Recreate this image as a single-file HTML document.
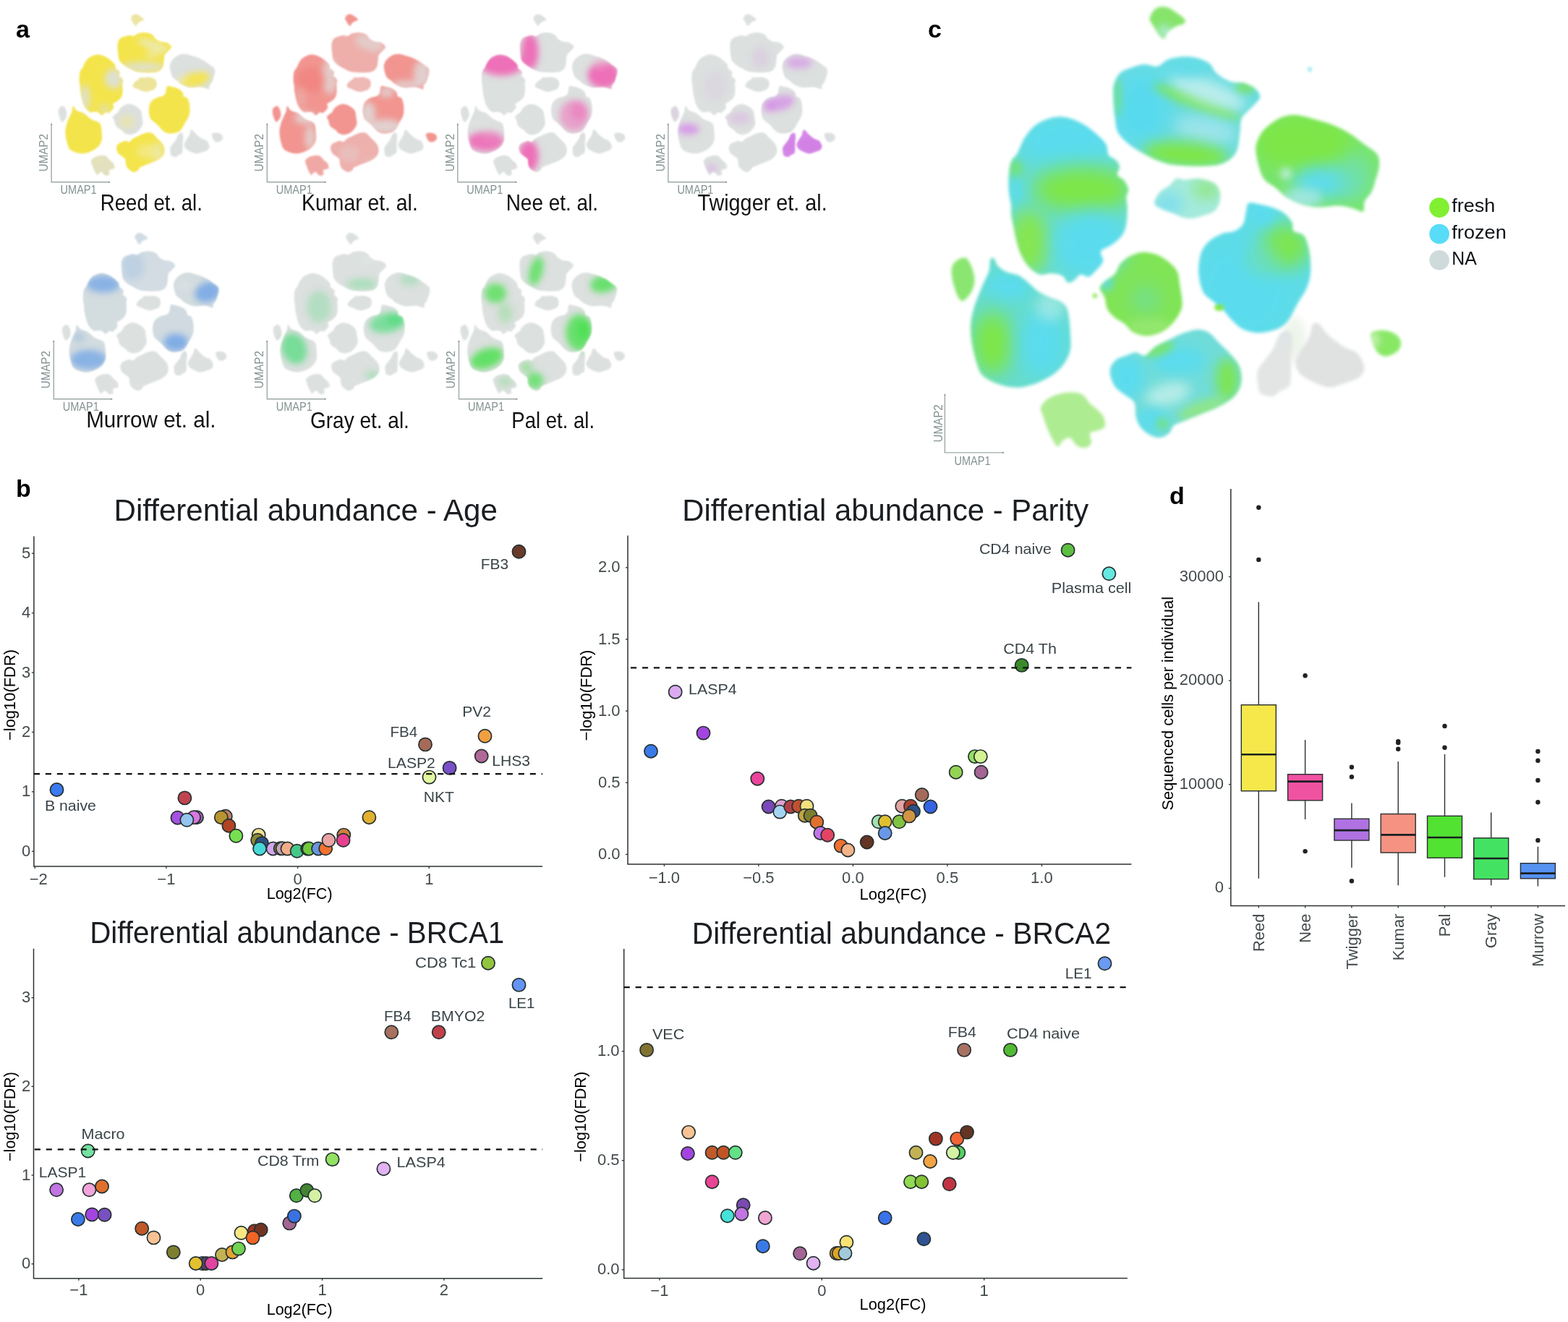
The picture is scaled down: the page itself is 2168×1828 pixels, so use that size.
<!DOCTYPE html><html><head><meta charset="utf-8"><title>Figure</title>
<style>html,body{margin:0;padding:0;background:#fff;}svg{display:block;}text{font-family:'Liberation Sans', Arial, sans-serif;}</style></head><body>
<svg width="2168" height="1828" viewBox="0 0 2168 1828">
<rect width="2168" height="1828" fill="#fff"/>
<defs>
<path id="b1" d="M1590.3,22.9C1591.3,20.3 1593.5,15.7 1596.1,13.4C1598.7,11.1 1602.2,9.5 1605.7,9.2C1609.2,8.9 1613.3,9.8 1617.1,11.5C1620.9,13.2 1625.1,16.6 1628.6,19.1C1632.1,21.7 1636.7,24.6 1638.1,26.8C1639.5,29.0 1639.1,30.9 1637.2,32.5C1635.3,34.1 1630.4,34.4 1626.7,36.3C1623.0,38.2 1618.1,41.1 1615.2,44.0C1612.3,46.9 1611.7,52.9 1609.5,53.5C1607.3,54.1 1604.0,50.3 1601.8,47.8C1599.6,45.2 1598.0,41.4 1596.1,38.2C1594.2,35.0 1591.3,31.2 1590.3,28.7C1589.3,26.1 1589.3,25.4 1590.3,22.9Z"/>
<path id="b2" d="M1539.7,118.5C1541.1,111.5 1544.3,105.4 1548.3,101.3C1552.3,97.2 1557.9,95.8 1563.6,93.7C1569.3,91.6 1576.7,89.2 1582.7,88.9C1588.8,88.6 1594.5,92.9 1599.9,91.8C1605.3,90.7 1609.5,84.4 1615.2,82.2C1620.9,80.0 1627.6,78.7 1634.3,78.4C1641.0,78.1 1648.9,78.7 1655.3,80.3C1661.7,81.9 1668.0,84.5 1672.5,88.0C1677.0,91.5 1677.3,97.2 1682.1,101.3C1686.9,105.4 1694.8,110.6 1701.2,112.8C1707.6,115.0 1714.6,113.1 1720.3,114.7C1726.0,116.3 1731.9,119.2 1735.6,122.4C1739.3,125.6 1742.3,130.3 1742.3,133.8C1742.3,137.3 1738.3,140.2 1735.6,143.4C1732.9,146.6 1729.3,149.5 1726.1,153.0C1722.9,156.5 1718.4,159.6 1716.5,164.4C1714.6,169.2 1715.5,174.6 1714.6,181.6C1713.6,188.6 1713.0,200.1 1710.8,206.5C1708.6,212.9 1705.3,216.4 1701.2,219.9C1697.1,223.4 1691.6,225.9 1685.9,227.5C1680.2,229.1 1673.8,229.1 1666.8,229.4C1659.8,229.7 1651.9,229.7 1643.9,229.4C1635.9,229.1 1626.3,228.8 1619.0,227.5C1611.7,226.2 1606.3,224.4 1599.9,221.8C1593.5,219.2 1586.5,215.4 1580.8,212.2C1575.1,209.0 1570.3,206.2 1565.5,202.7C1560.7,199.2 1555.6,195.0 1552.1,191.2C1548.6,187.4 1546.2,184.5 1544.4,179.7C1542.7,174.9 1542.4,168.6 1541.6,162.5C1540.8,156.4 1540.0,150.7 1539.7,143.4C1539.4,136.1 1538.3,125.5 1539.7,118.5Z"/>
<path id="b3" d="M1394.9,241.8C1395.4,234.9 1396.0,228.6 1398.0,223.5C1400.0,218.4 1404.0,216.6 1407.1,211.2C1410.1,205.8 1412.5,197.4 1416.3,191.3C1420.1,185.2 1425.0,178.8 1430.1,174.5C1435.2,170.2 1441.0,167.5 1446.9,165.3C1452.8,163.1 1459.2,161.5 1465.3,161.5C1471.4,161.5 1477.6,163.1 1483.7,165.3C1489.8,167.5 1496.1,170.7 1502.0,174.5C1507.9,178.3 1514.3,184.0 1518.9,188.3C1523.5,192.6 1527.3,196.2 1529.6,200.5C1531.9,204.8 1530.4,210.7 1532.7,214.3C1535.0,217.9 1540.9,219.1 1543.4,221.9C1546.0,224.7 1547.8,227.8 1548.0,231.1C1548.2,234.4 1543.9,238.7 1544.9,241.8C1545.9,244.9 1551.5,246.2 1554.1,249.5C1556.6,252.8 1559.7,257.9 1560.2,261.7C1560.7,265.5 1557.5,268.1 1557.2,272.5C1557.0,276.9 1558.7,281.4 1558.7,287.8C1558.7,294.2 1558.5,304.3 1557.2,310.7C1555.9,317.1 1554.3,321.4 1551.0,326.0C1547.7,330.6 1542.1,334.7 1537.3,338.3C1532.5,341.9 1524.0,343.7 1522.0,347.5C1520.0,351.3 1526.3,356.6 1525.0,361.2C1523.7,365.8 1517.6,371.4 1514.3,375.0C1511.0,378.6 1508.4,381.9 1505.1,382.7C1501.8,383.5 1498.0,378.6 1494.4,379.6C1490.8,380.6 1486.8,387.0 1483.7,388.8C1480.6,390.6 1478.5,391.6 1476.0,390.3C1473.5,389.0 1472.2,383.1 1468.4,381.1C1464.6,379.1 1458.2,378.4 1453.1,378.1C1448.0,377.9 1442.9,381.1 1437.8,379.6C1432.7,378.1 1426.8,373.5 1422.5,368.9C1418.2,364.3 1414.5,357.9 1411.7,352.0C1408.9,346.1 1407.4,340.3 1405.6,333.7C1403.8,327.1 1402.3,318.7 1401.0,312.3C1399.7,305.9 1398.5,300.2 1398.0,295.4C1397.5,290.5 1398.5,288.3 1398.0,283.2C1397.5,278.1 1395.4,271.7 1394.9,264.8C1394.4,257.9 1394.4,248.7 1394.9,241.8Z"/>
<path id="b4" d="M1736.4,203.6C1737.1,196.2 1740.6,189.8 1744.1,184.3C1747.6,178.8 1752.5,174.7 1757.6,170.8C1762.7,167.0 1768.8,163.1 1774.9,161.2C1781.0,159.3 1787.1,158.7 1794.2,159.3C1801.3,160.0 1809.3,162.8 1817.3,165.1C1825.3,167.3 1834.4,169.6 1842.4,172.8C1850.4,176.0 1858.1,179.8 1865.5,184.3C1872.9,188.8 1880.3,195.0 1886.7,199.8C1893.1,204.6 1900.7,208.5 1904.1,213.3C1907.5,218.1 1907.3,222.9 1907.0,228.7C1906.7,234.5 1904.0,241.9 1902.2,248.0C1900.4,254.1 1899.0,260.2 1896.4,265.3C1893.8,270.4 1888.6,274.3 1886.7,278.8C1884.8,283.3 1887.4,290.7 1884.8,292.3C1882.2,293.9 1876.8,289.7 1871.3,288.4C1865.8,287.1 1860.0,284.9 1852.0,284.6C1844.0,284.3 1831.8,286.8 1823.1,286.5C1814.4,286.2 1807.4,284.9 1800.0,282.7C1792.6,280.4 1784.9,276.9 1778.8,273.0C1772.7,269.1 1768.5,263.7 1763.4,259.5C1758.3,255.3 1751.9,253.1 1748.0,248.0C1744.1,242.9 1742.1,236.1 1740.2,228.7C1738.3,221.3 1735.8,211.0 1736.4,203.6Z"/>
<path id="b5" d="M1596.1,281.1C1595.8,277.3 1600.2,270.0 1603.7,265.8C1607.2,261.6 1613.3,259.4 1617.1,256.2C1620.9,253.0 1623.2,248.0 1626.7,246.7C1630.2,245.4 1633.6,248.6 1638.1,248.6C1642.5,248.6 1648.6,246.7 1653.4,246.7C1658.2,246.7 1662.3,247.3 1666.8,248.6C1671.3,249.9 1676.8,251.4 1680.2,254.3C1683.6,257.2 1686.0,261.3 1686.9,265.8C1687.9,270.3 1687.3,276.7 1685.9,281.1C1684.5,285.6 1682.1,289.6 1678.3,292.5C1674.5,295.4 1668.1,296.7 1663.0,298.3C1657.9,299.9 1652.5,301.8 1647.7,302.1C1642.9,302.4 1638.8,301.5 1634.3,300.2C1629.8,298.9 1625.7,296.4 1620.9,294.5C1616.1,292.6 1609.7,290.9 1605.6,288.7C1601.5,286.5 1596.4,284.9 1596.1,281.1Z"/>
<path id="b6" d="M1657.3,371.3C1657.6,364.2 1658.6,354.6 1661.2,348.2C1663.8,341.8 1668.0,337.0 1672.8,332.8C1677.6,328.6 1684.3,325.4 1690.1,323.1C1695.9,320.9 1702.7,321.6 1707.5,319.3C1712.3,317.1 1716.4,314.1 1719.0,309.6C1721.6,305.1 1721.6,297.1 1722.9,292.3C1724.2,287.5 1723.5,282.3 1726.7,280.7C1729.9,279.1 1737.1,281.7 1742.2,282.7C1747.3,283.7 1752.1,284.6 1757.6,286.5C1763.0,288.4 1770.1,290.7 1774.9,294.2C1779.7,297.7 1784.2,303.5 1786.5,307.7C1788.8,311.9 1785.8,316.4 1788.4,319.3C1791.0,322.2 1798.7,322.2 1801.9,325.1C1805.1,328.0 1806.1,331.5 1807.7,336.6C1809.3,341.7 1810.9,348.5 1811.6,355.9C1812.2,363.3 1812.6,373.6 1811.6,381.0C1810.6,388.4 1808.7,393.8 1805.8,400.2C1802.9,406.6 1798.0,412.8 1794.2,419.5C1790.4,426.2 1786.6,435.2 1782.7,440.7C1778.8,446.2 1775.6,449.4 1771.1,452.3C1766.6,455.2 1761.5,456.8 1755.7,458.1C1749.9,459.4 1742.8,460.6 1736.4,460.0C1730.0,459.4 1722.9,457.4 1717.1,454.2C1711.3,451.0 1705.9,444.9 1701.7,440.7C1697.5,436.5 1695.8,433.0 1692.0,429.2C1688.2,425.4 1683.1,421.5 1678.6,417.6C1674.1,413.7 1668.3,410.5 1665.1,406.0C1661.9,401.5 1660.6,396.4 1659.3,390.6C1658.0,384.8 1657.0,378.4 1657.3,371.3Z"/>
<path id="b7" d="M1520.7,398.0C1521.0,394.0 1525.8,390.9 1529.2,387.8C1532.6,384.7 1537.7,383.3 1541.1,379.3C1544.5,375.3 1545.9,368.2 1549.6,364.0C1553.3,359.8 1558.1,356.4 1563.2,353.8C1568.3,351.2 1574.3,349.0 1580.3,348.7C1586.3,348.4 1593.0,349.8 1599.0,352.1C1605.0,354.4 1611.2,358.3 1616.0,362.3C1620.8,366.3 1625.4,370.5 1627.9,375.9C1630.5,381.3 1630.2,387.2 1631.3,394.6C1632.4,402.0 1635.0,413.4 1634.7,420.2C1634.4,427.0 1632.1,430.7 1629.6,435.5C1627.0,440.3 1623.4,445.1 1619.4,449.1C1615.4,453.1 1611.5,456.8 1605.8,459.3C1600.1,461.9 1591.9,464.4 1585.4,464.4C1578.9,464.4 1571.7,462.1 1566.6,459.3C1561.5,456.5 1559.0,450.8 1554.7,447.4C1550.5,444.0 1545.1,442.3 1541.1,438.9C1537.1,435.5 1533.2,431.6 1530.9,427.0C1528.6,422.4 1529.2,416.4 1527.5,411.6C1525.8,406.8 1520.4,402.0 1520.7,398.0Z"/>
<path id="b8" d="M1342.1,449.1C1342.7,440.6 1344.9,431.6 1347.2,423.6C1349.5,415.7 1353.2,407.6 1355.7,401.4C1358.2,395.1 1360.5,390.6 1362.5,386.1C1364.5,381.6 1366.5,378.7 1367.6,374.2C1368.7,369.7 1368.2,361.7 1369.3,358.9C1370.4,356.1 1372.7,355.8 1374.4,357.2C1376.1,358.6 1376.7,364.3 1379.5,367.4C1382.3,370.5 1386.6,373.6 1391.4,375.9C1396.2,378.2 1403.4,378.4 1408.5,381.0C1413.6,383.6 1417.6,387.5 1422.1,391.2C1426.6,394.9 1430.6,399.7 1435.7,403.1C1440.8,406.5 1447.6,409.3 1452.7,411.6C1457.8,413.9 1462.6,414.4 1466.3,416.7C1470.0,419.0 1472.8,421.3 1474.8,425.3C1476.8,429.3 1477.3,434.4 1478.2,440.6C1479.1,446.8 1479.6,455.6 1479.9,462.7C1480.2,469.8 1481.0,476.9 1479.9,483.1C1478.8,489.3 1476.2,495.0 1473.1,500.1C1470.0,505.2 1465.7,509.7 1461.2,513.7C1456.7,517.7 1451.9,520.8 1445.9,523.9C1440.0,527.0 1432.3,530.4 1425.5,532.4C1418.7,534.4 1411.8,535.8 1405.0,535.8C1398.2,535.8 1390.8,534.1 1384.6,532.4C1378.4,530.7 1372.4,528.4 1367.6,525.6C1362.8,522.8 1358.8,520.2 1355.7,515.4C1352.6,510.6 1350.9,503.5 1348.9,496.7C1346.9,489.9 1344.9,482.5 1343.8,474.6C1342.7,466.7 1341.5,457.6 1342.1,449.1Z"/>
<path id="b9" d="M1316.8,367.4C1318.5,363.3 1322.9,360.0 1326.0,358.2C1329.1,356.4 1332.7,355.6 1335.2,356.6C1337.8,357.6 1339.5,361.0 1341.3,364.3C1343.1,367.6 1344.9,372.4 1345.9,376.5C1346.9,380.6 1347.8,384.7 1347.5,388.8C1347.2,392.9 1345.9,397.4 1344.4,401.0C1342.9,404.6 1340.6,407.6 1338.3,410.2C1336.0,412.8 1332.9,416.3 1330.6,416.3C1328.3,416.3 1326.3,413.2 1324.5,410.2C1322.7,407.1 1321.3,402.6 1319.9,398.0C1318.5,393.4 1316.6,387.8 1316.1,382.7C1315.6,377.6 1315.1,371.5 1316.8,367.4Z"/>
<path id="b10" d="M1534.7,512.5C1535.0,506.5 1539.2,501.3 1543.1,497.8C1547.0,494.3 1553.3,493.2 1557.9,491.5C1562.5,489.8 1566.3,487.3 1570.5,487.3C1574.7,487.3 1578.5,492.9 1583.1,491.5C1587.6,490.1 1591.8,482.8 1597.8,478.9C1603.8,475.0 1612.2,471.5 1618.9,468.4C1625.6,465.2 1631.5,462.1 1637.8,460.0C1644.1,457.9 1651.1,455.8 1656.7,455.8C1662.3,455.8 1666.5,456.9 1671.4,460.0C1676.3,463.1 1680.9,469.4 1686.2,474.7C1691.5,479.9 1698.5,486.2 1703.0,491.5C1707.5,496.8 1711.2,500.6 1713.5,506.2C1715.8,511.8 1717.0,519.2 1716.7,525.2C1716.4,531.2 1714.4,537.1 1711.4,542.0C1708.4,546.9 1704.1,550.8 1698.8,554.6C1693.5,558.5 1686.5,562.0 1679.8,565.1C1673.1,568.2 1665.8,570.7 1658.8,573.5C1651.8,576.3 1643.8,579.5 1637.8,582.0C1631.8,584.5 1626.6,585.5 1623.1,588.3C1619.6,591.1 1620.0,596.0 1616.8,598.8C1613.6,601.6 1608.7,604.8 1604.1,605.1C1599.5,605.5 1594.0,603.4 1589.4,600.9C1584.9,598.4 1580.0,594.6 1576.8,590.4C1573.6,586.2 1571.9,581.2 1570.5,575.6C1569.1,570.0 1570.9,561.6 1568.4,556.7C1566.0,551.8 1560.4,550.1 1555.8,546.2C1551.2,542.4 1544.5,539.2 1541.0,533.6C1537.5,528.0 1534.4,518.5 1534.7,512.5Z"/>
<path id="b11" d="M1439.1,563.0C1440.5,559.6 1444.8,554.2 1449.3,551.1C1453.8,548.0 1460.6,545.7 1466.3,544.3C1472.0,542.9 1478.2,542.3 1483.3,542.6C1488.4,542.9 1492.9,543.5 1496.9,546.0C1500.9,548.5 1503.7,554.5 1507.1,557.9C1510.5,561.3 1514.2,563.3 1517.3,566.4C1520.4,569.5 1524.1,572.6 1525.8,576.6C1527.5,580.6 1528.9,587.1 1527.5,590.2C1526.1,593.3 1520.7,594.0 1517.3,595.4C1513.9,596.8 1508.5,596.0 1507.1,598.8C1505.7,601.6 1509.9,609.0 1508.8,612.4C1507.7,615.8 1503.7,618.6 1500.3,619.2C1496.9,619.8 1491.8,618.1 1488.4,615.8C1485.0,613.5 1483.0,606.7 1479.9,605.6C1476.8,604.5 1472.5,607.0 1469.7,609.0C1466.9,611.0 1465.2,617.5 1462.9,617.5C1460.6,617.5 1458.4,612.7 1456.1,609.0C1453.8,605.3 1451.3,599.9 1449.3,595.4C1447.3,590.9 1445.6,585.7 1444.2,581.7C1442.8,577.7 1441.7,574.6 1440.8,571.5C1439.9,568.4 1437.7,566.4 1439.1,563.0Z"/>
<path id="b12a" d="M1738.7,512.5C1740.1,507.6 1743.7,504.8 1747.2,499.9C1750.7,495.0 1756.7,488.4 1759.8,483.1C1762.9,477.9 1764.0,472.2 1766.1,468.4C1768.2,464.5 1769.6,461.8 1772.4,460.0C1775.2,458.2 1780.5,455.8 1782.9,457.9C1785.4,460.0 1786.8,466.7 1787.1,472.6C1787.4,478.6 1785.3,486.6 1785.0,493.6C1784.7,500.6 1785.3,507.9 1785.0,514.6C1784.7,521.3 1785.7,529.0 1782.9,533.6C1780.1,538.2 1772.1,539.5 1768.2,542.0C1764.3,544.5 1764.0,547.9 1759.8,548.3C1755.6,548.6 1746.4,547.2 1742.9,544.1C1739.4,541.0 1739.4,534.7 1738.7,529.4C1738.0,524.1 1737.3,517.4 1738.7,512.5Z"/>
<path id="b12b" d="M1791.3,499.9C1792.0,494.6 1796.5,488.7 1799.7,483.1C1802.9,477.5 1807.8,471.9 1810.3,466.3C1812.8,460.7 1812.4,452.6 1814.5,449.4C1816.6,446.2 1819.4,445.2 1822.9,447.3C1826.4,449.4 1831.3,457.9 1835.5,462.1C1839.7,466.3 1843.9,469.5 1848.1,472.6C1852.3,475.8 1856.1,478.6 1860.7,481.0C1865.3,483.4 1871.6,484.2 1875.5,487.3C1879.4,490.4 1882.2,495.7 1883.9,499.9C1885.7,504.1 1887.0,508.6 1886.0,512.5C1885.0,516.4 1881.8,520.3 1877.6,523.1C1873.4,525.9 1867.0,527.3 1860.7,529.4C1854.4,531.5 1846.0,535.4 1839.7,535.7C1833.4,536.1 1828.5,533.6 1822.9,531.5C1817.3,529.4 1810.6,525.9 1806.0,523.1C1801.4,520.3 1798.0,518.5 1795.5,514.6C1793.0,510.7 1790.6,505.1 1791.3,499.9Z"/>
<path id="b13" d="M1896.5,460.0C1899.0,457.7 1906.3,456.8 1911.2,456.8C1916.1,456.8 1921.9,458.1 1925.9,460.0C1929.9,461.9 1933.6,465.2 1935.4,468.4C1937.2,471.5 1937.4,475.8 1936.5,478.9C1935.6,482.0 1933.3,485.0 1930.1,487.3C1926.9,489.6 1921.3,492.2 1917.5,492.6C1913.7,493.0 1909.8,491.3 1907.0,489.4C1904.2,487.5 1902.5,484.1 1900.7,481.0C1899.0,477.9 1897.2,474.0 1896.5,470.5C1895.8,467.0 1894.0,462.3 1896.5,460.0Z"/>
<g id="allb"><use href="#b1"/><use href="#b2"/><use href="#b3"/><use href="#b4"/><use href="#b5"/><use href="#b6"/><use href="#b7"/><use href="#b8"/><use href="#b9"/><use href="#b10"/><use href="#b11"/><use href="#b12a"/><use href="#b12b"/><use href="#b13"/></g>
<clipPath id="clipAll"><use href="#b1"/><use href="#b2"/><use href="#b3"/><use href="#b4"/><use href="#b5"/><use href="#b6"/><use href="#b7"/><use href="#b8"/><use href="#b9"/><use href="#b10"/><use href="#b11"/><use href="#b12a"/><use href="#b12b"/><use href="#b13"/></clipPath>
<filter id="edge" x="-5%" y="-5%" width="110%" height="110%"><feGaussianBlur stdDeviation="2"/></filter>
<filter id="edgeS" x="-5%" y="-5%" width="110%" height="110%"><feGaussianBlur stdDeviation="3"/></filter>
<filter id="soft" x="-50%" y="-50%" width="200%" height="200%"><feGaussianBlur stdDeviation="14"/></filter>
<filter id="soft2" x="-50%" y="-50%" width="200%" height="200%"><feGaussianBlur stdDeviation="8"/></filter>
<filter id="bl1" x="-100%" y="-100%" width="300%" height="300%"><feGaussianBlur stdDeviation="1"/></filter>
<filter id="bl2" x="-100%" y="-100%" width="300%" height="300%"><feGaussianBlur stdDeviation="2"/></filter>
<filter id="bl3" x="-100%" y="-100%" width="300%" height="300%"><feGaussianBlur stdDeviation="3"/></filter>
<filter id="bl4" x="-100%" y="-100%" width="300%" height="300%"><feGaussianBlur stdDeviation="4"/></filter>
<filter id="bl5" x="-100%" y="-100%" width="300%" height="300%"><feGaussianBlur stdDeviation="5"/></filter>
<filter id="bl6" x="-100%" y="-100%" width="300%" height="300%"><feGaussianBlur stdDeviation="6"/></filter>
<filter id="bl7" x="-100%" y="-100%" width="300%" height="300%"><feGaussianBlur stdDeviation="7"/></filter>
<filter id="bl8" x="-100%" y="-100%" width="300%" height="300%"><feGaussianBlur stdDeviation="8"/></filter>
<filter id="bl9" x="-100%" y="-100%" width="300%" height="300%"><feGaussianBlur stdDeviation="9"/></filter>
<filter id="bl10" x="-100%" y="-100%" width="300%" height="300%"><feGaussianBlur stdDeviation="10"/></filter>
<filter id="bl11" x="-100%" y="-100%" width="300%" height="300%"><feGaussianBlur stdDeviation="11"/></filter>
<filter id="bl12" x="-100%" y="-100%" width="300%" height="300%"><feGaussianBlur stdDeviation="12"/></filter>
<filter id="bl13" x="-100%" y="-100%" width="300%" height="300%"><feGaussianBlur stdDeviation="13"/></filter>
<filter id="bl14" x="-100%" y="-100%" width="300%" height="300%"><feGaussianBlur stdDeviation="14"/></filter>
<filter id="bl15" x="-100%" y="-100%" width="300%" height="300%"><feGaussianBlur stdDeviation="15"/></filter>
</defs>
<text x="22.0" y="52.0" font-size="34.0" fill="#000" font-weight="bold">a</text>
<text x="1283.0" y="52.0" font-size="34.0" fill="#000" font-weight="bold">c</text>
<text x="22.0" y="687.0" font-size="34.0" fill="#000" font-weight="bold">b</text>
<text x="1617.0" y="697.0" font-size="34.0" fill="#000" font-weight="bold">d</text>
<ellipse cx="1790" cy="470" rx="16" ry="32" fill="#eef4ea" filter="url(#bl6)"/>
<g id="bigumap" filter="url(#edge)">
<use href="#b1" fill="#86e46a"/>
<use href="#b2" fill="#6adce0"/>
<use href="#b3" fill="#66dcd4"/>
<use href="#b4" fill="#78e470"/>
<use href="#b5" fill="#a4eadc"/>
<use href="#b6" fill="#5edce6"/>
<use href="#b7" fill="#80e456"/>
<use href="#b8" fill="#66dccc"/>
<use href="#b9" fill="#8ae670"/>
<use href="#b10" fill="#70dcd8"/>
<use href="#b11" fill="#aeec92"/>
<use href="#b12a" fill="#e3e5e5"/>
<use href="#b12b" fill="#e0e2e2"/>
<use href="#b13" fill="#88e866"/>
<g clip-path="url(#clipAll)">
<ellipse cx="1578" cy="150" rx="40" ry="52" fill="#58daee" fill-opacity="1" filter="url(#bl14)"/>
<ellipse cx="1655" cy="141" rx="64" ry="10" fill="#7ee646" fill-opacity="0.8" filter="url(#bl6)" transform="rotate(21 1655.0 141.0)"/>
<ellipse cx="1670" cy="127" rx="56" ry="16" fill="#c8f0f0" fill-opacity="0.85" filter="url(#bl8)" transform="rotate(21 1670.0 127.0)"/>
<ellipse cx="1640" cy="94" rx="30" ry="12" fill="#60dcea" fill-opacity="0.9" filter="url(#bl8)"/>
<ellipse cx="1722" cy="121" rx="14" ry="8" fill="#7ee646" fill-opacity="0.75" filter="url(#bl5)"/>
<ellipse cx="1667" cy="180" rx="44" ry="18" fill="#a8e6ee" fill-opacity="0.8" filter="url(#bl9)" transform="rotate(10 1667.0 180.0)"/>
<ellipse cx="1640" cy="214" rx="60" ry="18" fill="#7ee646" fill-opacity="1" filter="url(#bl9)" transform="rotate(5 1640.0 214.0)"/>
<ellipse cx="1545" cy="135" rx="6" ry="28" fill="#7ee646" fill-opacity="0.5" filter="url(#bl5)"/>
<ellipse cx="1478" cy="196" rx="70" ry="40" fill="#5adcee" fill-opacity="1" filter="url(#bl14)"/>
<ellipse cx="1497" cy="262" rx="70" ry="32" fill="#7ee646" fill-opacity="1" filter="url(#bl14)"/>
<ellipse cx="1404" cy="235" rx="10" ry="14" fill="#7ee646" fill-opacity="0.7" filter="url(#bl6)"/>
<ellipse cx="1404" cy="265" rx="12" ry="24" fill="#5adcee" fill-opacity="0.8" filter="url(#bl7)"/>
<ellipse cx="1422" cy="335" rx="28" ry="46" fill="#86e650" fill-opacity="1" filter="url(#bl12)"/>
<ellipse cx="1508" cy="338" rx="50" ry="45" fill="#5adcee" fill-opacity="1" filter="url(#bl12)"/>
<ellipse cx="1800" cy="196" rx="70" ry="40" fill="#7ee646" fill-opacity="1" filter="url(#bl14)"/>
<ellipse cx="1832" cy="252" rx="45" ry="22" fill="#5edcea" fill-opacity="1" filter="url(#bl10)"/>
<ellipse cx="1800" cy="274" rx="28" ry="13" fill="#a8e8f0" fill-opacity="0.85" filter="url(#bl7)"/>
<ellipse cx="1778" cy="240" rx="8" ry="8" fill="#c8f0f0" fill-opacity="0.8" filter="url(#bl4)"/>
<ellipse cx="1872" cy="244" rx="24" ry="32" fill="#70e0b0" fill-opacity="0.7" filter="url(#bl10)"/>
<ellipse cx="1720" cy="400" rx="60" ry="60" fill="#5adcee" fill-opacity="1" filter="url(#bl15)"/>
<ellipse cx="1778" cy="340" rx="34" ry="32" fill="#7ee646" fill-opacity="0.95" filter="url(#bl13)"/>
<ellipse cx="1745" cy="360" rx="24" ry="22" fill="#6ee0b4" fill-opacity="0.6" filter="url(#bl10)"/>
<ellipse cx="1745" cy="298" rx="18" ry="14" fill="#5adcee" fill-opacity="1" filter="url(#bl6)"/>
<ellipse cx="1584" cy="414" rx="20" ry="20" fill="#6cdcb0" fill-opacity="0.55" filter="url(#bl11)"/>
<ellipse cx="1530" cy="392" rx="9" ry="10" fill="#5adcee" fill-opacity="0.8" filter="url(#bl5)"/>
<ellipse cx="1590" cy="452" rx="32" ry="11" fill="#a4ea80" fill-opacity="0.6" filter="url(#bl6)"/>
<ellipse cx="1395" cy="395" rx="34" ry="20" fill="#5adcee" fill-opacity="1" filter="url(#bl10)"/>
<ellipse cx="1372" cy="475" rx="28" ry="44" fill="#7ee646" fill-opacity="1" filter="url(#bl13)"/>
<ellipse cx="1442" cy="475" rx="32" ry="48" fill="#5adcee" fill-opacity="1" filter="url(#bl13)"/>
<ellipse cx="1452" cy="424" rx="20" ry="20" fill="#c8f0f0" fill-opacity="0.5" filter="url(#bl8)"/>
<ellipse cx="1558" cy="522" rx="24" ry="30" fill="#5adcee" fill-opacity="1" filter="url(#bl9)"/>
<ellipse cx="1630" cy="498" rx="36" ry="20" fill="#5adcee" fill-opacity="1" filter="url(#bl9)"/>
<ellipse cx="1603" cy="483" rx="22" ry="8" fill="#7ee646" fill-opacity="0.75" filter="url(#bl5)" transform="rotate(-20 1603.0 483.0)"/>
<ellipse cx="1615" cy="545" rx="32" ry="15" fill="#c8f0ec" fill-opacity="0.8" filter="url(#bl8)" transform="rotate(-15 1615.0 545.0)"/>
<ellipse cx="1697" cy="525" rx="16" ry="30" fill="#7ee646" fill-opacity="0.9" filter="url(#bl8)"/>
<ellipse cx="1662" cy="565" rx="36" ry="11" fill="#98e870" fill-opacity="0.75" filter="url(#bl6)" transform="rotate(-20 1662.0 565.0)"/>
<ellipse cx="1593" cy="582" rx="22" ry="18" fill="#5adcee" fill-opacity="0.85" filter="url(#bl7)"/>
<ellipse cx="1607" cy="586" rx="8" ry="8" fill="#7ee646" fill-opacity="0.6" filter="url(#bl4)"/>
<ellipse cx="1615" cy="282" rx="22" ry="17" fill="#78dcee" fill-opacity="0.75" filter="url(#bl8)"/>
<ellipse cx="1668" cy="262" rx="20" ry="15" fill="#8ee670" fill-opacity="0.65" filter="url(#bl8)"/>
<ellipse cx="1610" cy="44" rx="10" ry="10" fill="#b8eef0" fill-opacity="0.7" filter="url(#bl5)"/>
<ellipse cx="1900" cy="470" rx="7" ry="10" fill="#d8f4c8" fill-opacity="0.8" filter="url(#bl4)"/>
</g>
<circle cx="1811" cy="96" r="2.5" fill="#5cdcee"/>
<ellipse cx="1686" cy="425" rx="7" ry="5" fill="#7ee646"/>
<circle cx="1514" cy="409" r="3" fill="#7ee646"/>
</g>
<path d="M1306.4,545.0 V625.9 H1388.0" fill="none" stroke="#9ea8a8" stroke-width="1.4"/>
<path d="M1306.4,544.2 l-1.3,2.6 h2.6z M1388.8,625.9 l-2.6,-1.3 v2.6z" fill="#8a9696"/>
<text x="1319.5" y="643.2" font-size="16.0" fill="#849292" textLength="50.0" lengthAdjust="spacingAndGlyphs">UMAP1</text>
<text x="1303.4" y="611.4" font-size="16.0" fill="#849292" textLength="52.0" lengthAdjust="spacingAndGlyphs" transform="rotate(-90 1303.4 611.4)">UMAP2</text>
<circle cx="1990.1" cy="287.1" r="13.8" fill="#80f030"/>
<text x="2007.3" y="293.3" font-size="25.5" fill="#0c1216" textLength="60.0" lengthAdjust="spacingAndGlyphs">fresh</text>
<circle cx="1990.1" cy="323.5" r="13.8" fill="#58dcf8"/>
<text x="2007.3" y="329.9" font-size="25.5" fill="#0c1216" textLength="75.5" lengthAdjust="spacingAndGlyphs">frozen</text>
<circle cx="1990.1" cy="359.8" r="13.8" fill="#cfdbdb"/>
<text x="2007.3" y="365.8" font-size="25.5" fill="#0c1216" textLength="34.5" lengthAdjust="spacingAndGlyphs">NA</text>
<filter id="sblur" x="-30%" y="-30%" width="160%" height="160%"><feGaussianBlur stdDeviation="11"/></filter>
<g transform="translate(-400.8 16.3) scale(0.366)"><g filter="url(#edgeS)">
<use href="#b1" fill="#ece4a0"/>
<use href="#b2" fill="#f4e44c"/>
<use href="#b3" fill="#f4e44c"/>
<use href="#b4" fill="#dce0df"/>
<use href="#b5" fill="#ece49a"/>
<use href="#b6" fill="#f4e44c"/>
<use href="#b7" fill="#dce0df"/>
<use href="#b8" fill="#f4e44c"/>
<use href="#b9" fill="#dce0df"/>
<use href="#b10" fill="#f4e44c"/>
<use href="#b11" fill="#e2e0c0"/>
<use href="#b12a" fill="#dce0df"/>
<use href="#b12b" fill="#dce0df"/>
<use href="#b13" fill="#dce0df"/>
<g clip-path="url(#clipAll)"><g filter="url(#sblur)">
<ellipse cx="1524.8" cy="252.8" rx="34.8" ry="37.2" fill="#dce0df" fill-opacity="0.902"/>
<ellipse cx="1415.6" cy="327.1" rx="18.6" ry="51.1" fill="#dce0df" fill-opacity="0.855"/>
<ellipse cx="1490.0" cy="368.9" rx="23.2" ry="18.6" fill="#dce0df" fill-opacity="0.57"/>
<ellipse cx="1675.8" cy="127.4" rx="65.0" ry="16.3" fill="#ecebd0" fill-opacity="0.76" transform="rotate(20 1675.8 127.4)"/>
<ellipse cx="1634.0" cy="208.7" rx="83.6" ry="18.6" fill="#dce0df" fill-opacity="0.855"/>
<ellipse cx="1829.1" cy="257.4" rx="60.4" ry="27.9" fill="#f4e44c" fill-opacity="0.95" transform="rotate(-15 1829.1 257.4)"/>
<ellipse cx="1782.7" cy="257.4" rx="18.6" ry="18.6" fill="#ecebb0" fill-opacity="0.57"/>
<ellipse cx="1573.6" cy="415.4" rx="32.5" ry="27.9" fill="#e8e4a8" fill-opacity="0.76"/>
<ellipse cx="1652.6" cy="526.9" rx="41.8" ry="27.9" fill="#f2eca8" fill-opacity="0.57"/>
<ellipse cx="1694.4" cy="536.2" rx="23.2" ry="46.5" fill="#ece8b8" fill-opacity="0.665"/>
<ellipse cx="1466.8" cy="564.1" rx="23.2" ry="13.9" fill="#e8e4b0" fill-opacity="0.57"/>
<ellipse cx="1671.2" cy="159.9" rx="27.9" ry="13.9" fill="#eeeacc" fill-opacity="0.57"/>
</g></g></g></g>
<path d="M71.1,171.0 V251.7 H151.8" fill="none" stroke="#9ea8a8" stroke-width="1.4"/>
<path d="M71.1,170.2 l-1.3,2.6 h2.6z M152.6,251.7 l-2.6,-1.3 v2.6z" fill="#8a9696"/>
<text x="83.6" y="268.2" font-size="16.0" fill="#849292" textLength="50.0" lengthAdjust="spacingAndGlyphs">UMAP1</text>
<text x="66.1" y="237.2" font-size="16.0" fill="#849292" textLength="52.0" lengthAdjust="spacingAndGlyphs" transform="rotate(-90 66.1 237.2)">UMAP2</text>
<text x="138.8" y="291.3" font-size="30.5" fill="#111" textLength="141.1" lengthAdjust="spacingAndGlyphs">Reed et. al.</text>
<g transform="translate(-104.8 16.3) scale(0.366)"><g filter="url(#edgeS)">
<use href="#b1" fill="#f29590"/>
<use href="#b2" fill="#eeaeaa"/>
<use href="#b3" fill="#f29590"/>
<use href="#b4" fill="#f29590"/>
<use href="#b5" fill="#eeb8b4"/>
<use href="#b6" fill="#f29590"/>
<use href="#b7" fill="#f29590"/>
<use href="#b8" fill="#f29590"/>
<use href="#b9" fill="#f29590"/>
<use href="#b10" fill="#eeb0ac"/>
<use href="#b11" fill="#f0a8a4"/>
<use href="#b12a" fill="#dce0df"/>
<use href="#b12b" fill="#dce0df"/>
<use href="#b13" fill="#f29590"/>
<g clip-path="url(#clipAll)"><g filter="url(#sblur)">
<ellipse cx="1532.3" cy="243.5" rx="27.9" ry="69.7" fill="#dce0df" fill-opacity="0.722"/>
<ellipse cx="1420.8" cy="327.1" rx="23.2" ry="46.5" fill="#e8bcb8" fill-opacity="0.425"/>
<ellipse cx="1462.6" cy="257.4" rx="55.8" ry="46.5" fill="#f27a74" fill-opacity="0.51"/>
<ellipse cx="1681.0" cy="118.1" rx="55.8" ry="27.9" fill="#dce0df" fill-opacity="0.595" transform="rotate(20 1681.0 118.1)"/>
<ellipse cx="1880.8" cy="234.2" rx="32.5" ry="51.1" fill="#dce0df" fill-opacity="0.765"/>
<ellipse cx="1820.4" cy="276.0" rx="55.8" ry="16.3" fill="#dce0df" fill-opacity="0.765"/>
<ellipse cx="1676.3" cy="382.9" rx="27.9" ry="41.8" fill="#dce0df" fill-opacity="0.807"/>
<ellipse cx="1741.4" cy="434.0" rx="65.0" ry="27.9" fill="#dce0df" fill-opacity="0.807"/>
<ellipse cx="1746.0" cy="303.9" rx="27.9" ry="18.6" fill="#dce0df" fill-opacity="0.765"/>
<ellipse cx="1439.4" cy="401.5" rx="41.8" ry="23.2" fill="#dce0df" fill-opacity="0.765"/>
<ellipse cx="1458.0" cy="475.8" rx="20.9" ry="46.5" fill="#dce0df" fill-opacity="0.722"/>
<ellipse cx="1606.7" cy="536.2" rx="37.2" ry="32.5" fill="#e4cac8" fill-opacity="0.595"/>
<ellipse cx="1681.0" cy="559.4" rx="27.9" ry="18.6" fill="#e8bcb8" fill-opacity="0.425"/>
</g></g></g></g>
<path d="M369.3,171.0 V251.7 H450.6" fill="none" stroke="#9ea8a8" stroke-width="1.4"/>
<path d="M369.3,170.2 l-1.3,2.6 h2.6z M451.4,251.7 l-2.6,-1.3 v2.6z" fill="#8a9696"/>
<text x="381.8" y="268.2" font-size="16.0" fill="#849292" textLength="50.0" lengthAdjust="spacingAndGlyphs">UMAP1</text>
<text x="364.3" y="237.2" font-size="16.0" fill="#849292" textLength="52.0" lengthAdjust="spacingAndGlyphs" transform="rotate(-90 364.3 237.2)">UMAP2</text>
<text x="417.1" y="291.3" font-size="30.5" fill="#111" textLength="160.7" lengthAdjust="spacingAndGlyphs">Kumar et. al.</text>
<g transform="translate(155.5 16.3) scale(0.366)"><g filter="url(#edgeS)">
<use href="#b1" fill="#dce0df"/>
<use href="#b2" fill="#dce0df"/>
<use href="#b3" fill="#dce0df"/>
<use href="#b4" fill="#dce0df"/>
<use href="#b5" fill="#dce0df"/>
<use href="#b6" fill="#dce0df"/>
<use href="#b7" fill="#dce0df"/>
<use href="#b8" fill="#dce0df"/>
<use href="#b9" fill="#dce0df"/>
<use href="#b10" fill="#dce0df"/>
<use href="#b11" fill="#dce0df"/>
<use href="#b12a" fill="#dce0df"/>
<use href="#b12b" fill="#dce0df"/>
<use href="#b13" fill="#dce0df"/>
<g clip-path="url(#clipAll)"><g filter="url(#sblur)">
<ellipse cx="1470.0" cy="197.1" rx="83.6" ry="44.1" fill="#f064b4" fill-opacity="0.9"/>
<ellipse cx="1576.9" cy="150.6" rx="32.5" ry="69.7" fill="#f064b4" fill-opacity="0.9"/>
<ellipse cx="1855.6" cy="238.9" rx="60.4" ry="51.1" fill="#f064b4" fill-opacity="0.9"/>
<ellipse cx="1841.7" cy="197.1" rx="27.9" ry="18.6" fill="#e8b0d0" fill-opacity="0.54"/>
<ellipse cx="1744.1" cy="392.2" rx="55.8" ry="60.4" fill="#f064b4" fill-opacity="0.495"/>
<ellipse cx="1762.7" cy="373.6" rx="32.5" ry="37.2" fill="#f064b4" fill-opacity="0.405"/>
<ellipse cx="1409.6" cy="489.7" rx="69.7" ry="37.2" fill="#f064b4" fill-opacity="0.855"/>
<ellipse cx="1572.2" cy="545.5" rx="37.2" ry="60.4" fill="#f064b4" fill-opacity="0.9"/>
<ellipse cx="1432.8" cy="466.5" rx="37.2" ry="18.6" fill="#e89cc8" fill-opacity="0.45"/>
</g></g></g></g>
<path d="M632.8,171.0 V251.7 H714.3" fill="none" stroke="#9ea8a8" stroke-width="1.4"/>
<path d="M632.8,170.2 l-1.3,2.6 h2.6z M715.1,251.7 l-2.6,-1.3 v2.6z" fill="#8a9696"/>
<text x="645.3" y="268.2" font-size="16.0" fill="#849292" textLength="50.0" lengthAdjust="spacingAndGlyphs">UMAP1</text>
<text x="627.8" y="237.2" font-size="16.0" fill="#849292" textLength="52.0" lengthAdjust="spacingAndGlyphs" transform="rotate(-90 627.8 237.2)">UMAP2</text>
<text x="699.7" y="291.3" font-size="30.5" fill="#111" textLength="127.4" lengthAdjust="spacingAndGlyphs">Nee et. al.</text>
<g transform="translate(446.0 16.3) scale(0.366)"><g filter="url(#edgeS)">
<use href="#b1" fill="#dce0df"/>
<use href="#b2" fill="#dce0df"/>
<use href="#b3" fill="#dce0df"/>
<use href="#b4" fill="#dce0df"/>
<use href="#b5" fill="#dce0df"/>
<use href="#b6" fill="#dce0df"/>
<use href="#b7" fill="#dce0df"/>
<use href="#b8" fill="#dce0df"/>
<use href="#b9" fill="#dce0df"/>
<use href="#b10" fill="#dce0df"/>
<use href="#b11" fill="#dce0df"/>
<use href="#b12a" fill="#d68ae8"/>
<use href="#b12b" fill="#d68ae8"/>
<use href="#b13" fill="#dce0df"/>
<g clip-path="url(#clipAll)"><g filter="url(#sblur)">
<ellipse cx="1799.0" cy="192.4" rx="51.1" ry="23.2" fill="#d68ae8" fill-opacity="0.6"/>
<ellipse cx="1724.7" cy="345.7" rx="60.4" ry="27.9" fill="#d68ae8" fill-opacity="0.72" transform="rotate(-15 1724.7 345.7)"/>
<ellipse cx="1687.5" cy="355.0" rx="23.2" ry="23.2" fill="#d68ae8" fill-opacity="0.64"/>
<ellipse cx="1380.9" cy="443.3" rx="41.8" ry="20.9" fill="#d68ae8" fill-opacity="0.8"/>
<ellipse cx="1576.0" cy="401.5" rx="41.8" ry="23.2" fill="#d68ae8" fill-opacity="0.28"/>
<ellipse cx="1469.2" cy="591.9" rx="23.2" ry="18.6" fill="#d68ae8" fill-opacity="0.36"/>
<ellipse cx="1329.8" cy="382.9" rx="13.9" ry="27.9" fill="#d68ae8" fill-opacity="0.24"/>
<ellipse cx="1655.0" cy="173.8" rx="32.5" ry="41.8" fill="#d68ae8" fill-opacity="0.16"/>
<ellipse cx="1483.1" cy="280.7" rx="41.8" ry="55.8" fill="#d68ae8" fill-opacity="0.096"/>
<ellipse cx="1845.5" cy="503.7" rx="55.8" ry="27.9" fill="#c870dc" fill-opacity="0.4"/>
<ellipse cx="1761.9" cy="503.7" rx="18.6" ry="37.2" fill="#c870dc" fill-opacity="0.32"/>
</g></g></g></g>
<path d="M923.9,171.0 V251.7 H1005.0" fill="none" stroke="#9ea8a8" stroke-width="1.4"/>
<path d="M923.9,170.2 l-1.3,2.6 h2.6z M1005.8,251.7 l-2.6,-1.3 v2.6z" fill="#8a9696"/>
<text x="936.4" y="268.2" font-size="16.0" fill="#849292" textLength="50.0" lengthAdjust="spacingAndGlyphs">UMAP1</text>
<text x="918.9" y="237.2" font-size="16.0" fill="#849292" textLength="52.0" lengthAdjust="spacingAndGlyphs" transform="rotate(-90 918.9 237.2)">UMAP2</text>
<text x="964.4" y="291.3" font-size="30.5" fill="#111" textLength="179.3" lengthAdjust="spacingAndGlyphs">Twigger et. al.</text>
<g transform="translate(-395.6 318.6) scale(0.366)"><g filter="url(#edgeS)">
<use href="#b1" fill="#d0dce4"/>
<use href="#b2" fill="#d2dce2"/>
<use href="#b3" fill="#d3dcdf"/>
<use href="#b4" fill="#d3dcdf"/>
<use href="#b5" fill="#dce0df"/>
<use href="#b6" fill="#d0dae0"/>
<use href="#b7" fill="#dce0df"/>
<use href="#b8" fill="#d3dcdf"/>
<use href="#b9" fill="#dce0df"/>
<use href="#b10" fill="#dce0df"/>
<use href="#b11" fill="#dce0df"/>
<use href="#b12a" fill="#dce0df"/>
<use href="#b12b" fill="#dce0df"/>
<use href="#b13" fill="#dce0df"/>
<g clip-path="url(#clipAll)"><g filter="url(#sblur)">
<ellipse cx="1471.1" cy="202.4" rx="65.0" ry="32.5" fill="#5a98e8" fill-opacity="0.612"/>
<ellipse cx="1866.0" cy="232.6" rx="51.1" ry="37.2" fill="#5a98e8" fill-opacity="0.68" transform="rotate(-20 1866.0 232.6)"/>
<ellipse cx="1745.2" cy="423.1" rx="46.5" ry="32.5" fill="#5a98e8" fill-opacity="0.68"/>
<ellipse cx="1415.4" cy="488.1" rx="69.7" ry="37.2" fill="#5a98e8" fill-opacity="0.612"/>
<ellipse cx="1378.2" cy="404.5" rx="23.2" ry="18.6" fill="#5a98e8" fill-opacity="0.272"/>
<ellipse cx="1582.6" cy="135.0" rx="41.8" ry="51.1" fill="#5a98e8" fill-opacity="0.17"/>
<ellipse cx="1777.8" cy="209.3" rx="27.9" ry="18.6" fill="#e4ecee" fill-opacity="0.34"/>
</g></g></g></g>
<path d="M74.3,471.0 V551.7 H155.1" fill="none" stroke="#9ea8a8" stroke-width="1.4"/>
<path d="M74.3,470.2 l-1.3,2.6 h2.6z M155.9,551.7 l-2.6,-1.3 v2.6z" fill="#8a9696"/>
<text x="86.8" y="568.2" font-size="16.0" fill="#849292" textLength="50.0" lengthAdjust="spacingAndGlyphs">UMAP1</text>
<text x="69.3" y="537.2" font-size="16.0" fill="#849292" textLength="52.0" lengthAdjust="spacingAndGlyphs" transform="rotate(-90 69.3 537.2)">UMAP2</text>
<text x="119.2" y="590.5" font-size="30.5" fill="#111" textLength="179.4" lengthAdjust="spacingAndGlyphs">Murrow et. al.</text>
<g transform="translate(-103.7 318.6) scale(0.366)"><g filter="url(#edgeS)">
<use href="#b1" fill="#dce0df"/>
<use href="#b2" fill="#dce0df"/>
<use href="#b3" fill="#dce0df"/>
<use href="#b4" fill="#dce0df"/>
<use href="#b5" fill="#dce0df"/>
<use href="#b6" fill="#dce0df"/>
<use href="#b7" fill="#dce0df"/>
<use href="#b8" fill="#dce0df"/>
<use href="#b9" fill="#dce0df"/>
<use href="#b10" fill="#dce0df"/>
<use href="#b11" fill="#dce0df"/>
<use href="#b12a" fill="#dce0df"/>
<use href="#b12b" fill="#dce0df"/>
<use href="#b13" fill="#dce0df"/>
<g clip-path="url(#clipAll)"><g filter="url(#sblur)">
<ellipse cx="1394.6" cy="446.3" rx="46.5" ry="60.4" fill="#4cdc7a" fill-opacity="0.702" transform="rotate(-20 1394.6 446.3)"/>
<ellipse cx="1747.7" cy="348.7" rx="69.7" ry="37.2" fill="#4cdc7a" fill-opacity="0.663" transform="rotate(-10 1747.7 348.7)"/>
<ellipse cx="1775.6" cy="334.8" rx="32.5" ry="23.2" fill="#4cdc7a" fill-opacity="0.624"/>
<ellipse cx="1487.5" cy="288.3" rx="46.5" ry="60.4" fill="#4cdc7a" fill-opacity="0.273"/>
<ellipse cx="1650.1" cy="202.4" rx="55.8" ry="20.9" fill="#4cdc7a" fill-opacity="0.351"/>
<ellipse cx="1831.3" cy="186.1" rx="37.2" ry="23.2" fill="#4cdc7a" fill-opacity="0.273"/>
<ellipse cx="1691.9" cy="548.5" rx="27.9" ry="18.6" fill="#4cdc7a" fill-opacity="0.312"/>
<ellipse cx="1668.7" cy="111.8" rx="27.9" ry="18.6" fill="#e4ecea" fill-opacity="0.39"/>
</g></g></g></g>
<path d="M369.3,471.0 V551.7 H450.6" fill="none" stroke="#9ea8a8" stroke-width="1.4"/>
<path d="M369.3,470.2 l-1.3,2.6 h2.6z M451.4,551.7 l-2.6,-1.3 v2.6z" fill="#8a9696"/>
<text x="381.8" y="568.2" font-size="16.0" fill="#849292" textLength="50.0" lengthAdjust="spacingAndGlyphs">UMAP1</text>
<text x="364.3" y="537.2" font-size="16.0" fill="#849292" textLength="52.0" lengthAdjust="spacingAndGlyphs" transform="rotate(-90 364.3 537.2)">UMAP2</text>
<text x="429.0" y="591.5" font-size="30.5" fill="#111" textLength="136.9" lengthAdjust="spacingAndGlyphs">Gray et. al.</text>
<g transform="translate(155.0 318.6) scale(0.366)"><g filter="url(#edgeS)">
<use href="#b1" fill="#dce0df"/>
<use href="#b2" fill="#dce0df"/>
<use href="#b3" fill="#dce0df"/>
<use href="#b4" fill="#dce0df"/>
<use href="#b5" fill="#dce0df"/>
<use href="#b6" fill="#dce0df"/>
<use href="#b7" fill="#dce0df"/>
<use href="#b8" fill="#dce0df"/>
<use href="#b9" fill="#dce0df"/>
<use href="#b10" fill="#dce0df"/>
<use href="#b11" fill="#dce0df"/>
<use href="#b12a" fill="#dce0df"/>
<use href="#b12b" fill="#dce0df"/>
<use href="#b13" fill="#dce0df"/>
<g clip-path="url(#clipAll)"><g filter="url(#sblur)">
<ellipse cx="1448.1" cy="237.2" rx="41.8" ry="37.2" fill="#46e04a" fill-opacity="0.722"/>
<ellipse cx="1601.5" cy="153.6" rx="25.6" ry="55.8" fill="#46e04a" fill-opacity="0.722" transform="rotate(15 1601.5 153.6)"/>
<ellipse cx="1857.0" cy="202.4" rx="51.1" ry="32.5" fill="#46e04a" fill-opacity="0.765" transform="rotate(-10 1857.0 202.4)"/>
<ellipse cx="1764.1" cy="385.9" rx="51.1" ry="69.7" fill="#46e04a" fill-opacity="0.765"/>
<ellipse cx="1782.6" cy="376.6" rx="27.9" ry="37.2" fill="#46e04a" fill-opacity="0.68"/>
<ellipse cx="1415.6" cy="483.5" rx="65.0" ry="37.2" fill="#46e04a" fill-opacity="0.807" transform="rotate(-20 1415.6 483.5)"/>
<ellipse cx="1596.8" cy="567.1" rx="32.5" ry="32.5" fill="#46e04a" fill-opacity="0.68"/>
<ellipse cx="1564.3" cy="516.0" rx="23.2" ry="18.6" fill="#46e04a" fill-opacity="0.425"/>
<ellipse cx="1485.3" cy="311.6" rx="27.9" ry="37.2" fill="#46e04a" fill-opacity="0.255"/>
<ellipse cx="1485.3" cy="571.7" rx="27.9" ry="18.6" fill="#46e04a" fill-opacity="0.255"/>
</g></g></g></g>
<path d="M634.5,471.0 V551.7 H715.3" fill="none" stroke="#9ea8a8" stroke-width="1.4"/>
<path d="M634.5,470.2 l-1.3,2.6 h2.6z M716.1,551.7 l-2.6,-1.3 v2.6z" fill="#8a9696"/>
<text x="647.0" y="568.2" font-size="16.0" fill="#849292" textLength="50.0" lengthAdjust="spacingAndGlyphs">UMAP1</text>
<text x="629.5" y="537.2" font-size="16.0" fill="#849292" textLength="52.0" lengthAdjust="spacingAndGlyphs" transform="rotate(-90 629.5 537.2)">UMAP2</text>
<text x="707.3" y="591.5" font-size="30.5" fill="#111" textLength="114.8" lengthAdjust="spacingAndGlyphs">Pal et. al.</text>
<text x="157.6" y="720.0" font-size="42.0" fill="#1a1e22" textLength="530.3" lengthAdjust="spacingAndGlyphs">Differential abundance - Age</text>
<path d="M46.9,741.6 V1198.0 H750.0" fill="none" stroke="#2c3234" stroke-width="1.5"/>
<line x1="43.9" y1="1177.2" x2="46.9" y2="1177.2" stroke="#2c3234" stroke-width="1.3"/>
<text x="42.2" y="1183.8" font-size="22.0" fill="#434a4c" text-anchor="end">0</text>
<line x1="43.9" y1="1094.8" x2="46.9" y2="1094.8" stroke="#2c3234" stroke-width="1.3"/>
<text x="42.2" y="1101.4" font-size="22.0" fill="#434a4c" text-anchor="end">1</text>
<line x1="43.9" y1="1012.4" x2="46.9" y2="1012.4" stroke="#2c3234" stroke-width="1.3"/>
<text x="42.2" y="1019.0" font-size="22.0" fill="#434a4c" text-anchor="end">2</text>
<line x1="43.9" y1="930.0" x2="46.9" y2="930.0" stroke="#2c3234" stroke-width="1.3"/>
<text x="42.2" y="936.6" font-size="22.0" fill="#434a4c" text-anchor="end">3</text>
<line x1="43.9" y1="847.6" x2="46.9" y2="847.6" stroke="#2c3234" stroke-width="1.3"/>
<text x="42.2" y="854.2" font-size="22.0" fill="#434a4c" text-anchor="end">4</text>
<line x1="43.9" y1="765.2" x2="46.9" y2="765.2" stroke="#2c3234" stroke-width="1.3"/>
<text x="42.2" y="771.8" font-size="22.0" fill="#434a4c" text-anchor="end">5</text>
<line x1="48.2" y1="1198.0" x2="48.2" y2="1201.0" stroke="#2c3234" stroke-width="1.3"/>
<text x="53.2" y="1222.6" font-size="22.0" fill="#434a4c" text-anchor="middle">−2</text>
<line x1="229.9" y1="1198.0" x2="229.9" y2="1201.0" stroke="#2c3234" stroke-width="1.3"/>
<text x="229.9" y="1222.6" font-size="22.0" fill="#434a4c" text-anchor="middle">−1</text>
<line x1="411.6" y1="1198.0" x2="411.6" y2="1201.0" stroke="#2c3234" stroke-width="1.3"/>
<text x="411.6" y="1222.6" font-size="22.0" fill="#434a4c" text-anchor="middle">0</text>
<line x1="593.3" y1="1198.0" x2="593.3" y2="1201.0" stroke="#2c3234" stroke-width="1.3"/>
<text x="593.3" y="1222.6" font-size="22.0" fill="#434a4c" text-anchor="middle">1</text>
<text x="368.7" y="1242.7" font-size="22.5" fill="#000" textLength="90.9" lengthAdjust="spacingAndGlyphs">Log2(FC)</text>
<text x="21.3" y="1024.0" font-size="22.5" fill="#000" textLength="126.0" lengthAdjust="spacingAndGlyphs" transform="rotate(-90 21.3 1024.0)">−log10(FDR)</text>
<circle cx="255.4" cy="1103.4" r="9.1" fill="#c0444f" stroke="#25302f" stroke-width="1.7"/>
<circle cx="245.5" cy="1130.7" r="9.1" fill="#a452e0" stroke="#25302f" stroke-width="1.7"/>
<circle cx="272.0" cy="1130.2" r="9.1" fill="#a060b0" stroke="#25302f" stroke-width="1.7"/>
<circle cx="268.0" cy="1130.2" r="9.1" fill="#d878e0" stroke="#25302f" stroke-width="1.7"/>
<circle cx="258.4" cy="1133.8" r="9.1" fill="#94c4f0" stroke="#25302f" stroke-width="1.7"/>
<circle cx="311.8" cy="1128.8" r="9.1" fill="#c08068" stroke="#25302f" stroke-width="1.7"/>
<circle cx="305.8" cy="1130.2" r="9.1" fill="#b8952e" stroke="#25302f" stroke-width="1.7"/>
<circle cx="316.4" cy="1141.7" r="9.1" fill="#b04424" stroke="#25302f" stroke-width="1.7"/>
<circle cx="326.4" cy="1155.8" r="9.1" fill="#78e050" stroke="#25302f" stroke-width="1.7"/>
<circle cx="357.7" cy="1154.6" r="9.1" fill="#f2e090" stroke="#25302f" stroke-width="1.7"/>
<circle cx="356.2" cy="1161.8" r="9.1" fill="#8e8a30" stroke="#25302f" stroke-width="1.7"/>
<circle cx="362.0" cy="1166.1" r="9.1" fill="#2e5080" stroke="#25302f" stroke-width="1.7"/>
<circle cx="359.1" cy="1173.5" r="9.1" fill="#48d8d8" stroke="#25302f" stroke-width="1.7"/>
<circle cx="377.5" cy="1173.5" r="9.1" fill="#d4a4ec" stroke="#25302f" stroke-width="1.7"/>
<circle cx="387.7" cy="1173.3" r="9.1" fill="#7a8040" stroke="#25302f" stroke-width="1.7"/>
<circle cx="390.7" cy="1173.3" r="9.1" fill="#c8a4b8" stroke="#25302f" stroke-width="1.7"/>
<circle cx="397.5" cy="1173.5" r="9.1" fill="#f2ac88" stroke="#25302f" stroke-width="1.7"/>
<circle cx="410.7" cy="1176.8" r="9.1" fill="#44c888" stroke="#25302f" stroke-width="1.7"/>
<circle cx="425.2" cy="1173.5" r="9.1" fill="#3a7a30" stroke="#25302f" stroke-width="1.7"/>
<circle cx="427.2" cy="1173.5" r="9.1" fill="#72c840" stroke="#25302f" stroke-width="1.7"/>
<circle cx="440.1" cy="1173.5" r="9.1" fill="#6a94e0" stroke="#25302f" stroke-width="1.7"/>
<circle cx="450.2" cy="1173.3" r="9.1" fill="#f27030" stroke="#25302f" stroke-width="1.7"/>
<circle cx="454.5" cy="1161.8" r="9.1" fill="#eaa4a4" stroke="#25302f" stroke-width="1.7"/>
<circle cx="475.3" cy="1154.6" r="9.1" fill="#d08040" stroke="#25302f" stroke-width="1.7"/>
<circle cx="474.6" cy="1161.8" r="9.1" fill="#e84090" stroke="#25302f" stroke-width="1.7"/>
<circle cx="510.4" cy="1130.2" r="9.1" fill="#e2b030" stroke="#25302f" stroke-width="1.7"/>
<circle cx="78.5" cy="1092.0" r="9.1" fill="#3a7af0" stroke="#25302f" stroke-width="1.7"/>
<circle cx="588.0" cy="1029.4" r="9.1" fill="#a86a58" stroke="#25302f" stroke-width="1.7"/>
<circle cx="670.5" cy="1017.8" r="9.1" fill="#f0a040" stroke="#25302f" stroke-width="1.7"/>
<circle cx="665.7" cy="1045.5" r="9.1" fill="#b06898" stroke="#25302f" stroke-width="1.7"/>
<circle cx="621.6" cy="1061.9" r="9.1" fill="#7850c8" stroke="#25302f" stroke-width="1.7"/>
<circle cx="593.5" cy="1074.6" r="9.1" fill="#e2f8a0" stroke="#25302f" stroke-width="1.7"/>
<circle cx="717.5" cy="762.8" r="9.1" fill="#6a3a2a" stroke="#25302f" stroke-width="1.7"/>
<line x1="46.9" y1="1070.2" x2="750.0" y2="1070.2" stroke="#111" stroke-width="2.3" stroke-dasharray="8.1 7.85" stroke-dashoffset="0.0"/>
<text x="664.8" y="787.2" font-size="21.0" fill="#3a4448" textLength="38.2" lengthAdjust="spacingAndGlyphs">FB3</text>
<text x="539.5" y="1019.0" font-size="21.0" fill="#3a4448" textLength="37.6" lengthAdjust="spacingAndGlyphs">FB4</text>
<text x="639.2" y="991.1" font-size="21.0" fill="#3a4448" textLength="39.8" lengthAdjust="spacingAndGlyphs">PV2</text>
<text x="680.2" y="1058.8" font-size="21.0" fill="#3a4448" textLength="52.8" lengthAdjust="spacingAndGlyphs">LHS3</text>
<text x="536.0" y="1062.2" font-size="21.0" fill="#3a4448" textLength="65.9" lengthAdjust="spacingAndGlyphs">LASP2</text>
<text x="585.8" y="1108.5" font-size="21.0" fill="#3a4448" textLength="42.2" lengthAdjust="spacingAndGlyphs">NKT</text>
<text x="61.9" y="1120.7" font-size="21.0" fill="#3a4448" textLength="71.0" lengthAdjust="spacingAndGlyphs">B naive</text>
<text x="943.2" y="720.2" font-size="42.0" fill="#1a1e22" textLength="562.0" lengthAdjust="spacingAndGlyphs">Differential abundance - Parity</text>
<path d="M868.0,740.4 V1195.1 H1564.4" fill="none" stroke="#2c3234" stroke-width="1.5"/>
<line x1="865.0" y1="1181.4" x2="868.0" y2="1181.4" stroke="#2c3234" stroke-width="1.3"/>
<text x="857.5" y="1188.0" font-size="22.0" fill="#434a4c" text-anchor="end">0.0</text>
<line x1="865.0" y1="1082.2" x2="868.0" y2="1082.2" stroke="#2c3234" stroke-width="1.3"/>
<text x="857.5" y="1088.8" font-size="22.0" fill="#434a4c" text-anchor="end">0.5</text>
<line x1="865.0" y1="983.1" x2="868.0" y2="983.1" stroke="#2c3234" stroke-width="1.3"/>
<text x="857.5" y="989.7" font-size="22.0" fill="#434a4c" text-anchor="end">1.0</text>
<line x1="865.0" y1="884.0" x2="868.0" y2="884.0" stroke="#2c3234" stroke-width="1.3"/>
<text x="857.5" y="890.6" font-size="22.0" fill="#434a4c" text-anchor="end">1.5</text>
<line x1="865.0" y1="784.8" x2="868.0" y2="784.8" stroke="#2c3234" stroke-width="1.3"/>
<text x="857.5" y="791.4" font-size="22.0" fill="#434a4c" text-anchor="end">2.0</text>
<line x1="918.4" y1="1195.1" x2="918.4" y2="1198.1" stroke="#2c3234" stroke-width="1.3"/>
<text x="918.4" y="1220.6" font-size="22.0" fill="#434a4c" text-anchor="middle">−1.0</text>
<line x1="1048.9" y1="1195.1" x2="1048.9" y2="1198.1" stroke="#2c3234" stroke-width="1.3"/>
<text x="1048.9" y="1220.6" font-size="22.0" fill="#434a4c" text-anchor="middle">−0.5</text>
<line x1="1179.4" y1="1195.1" x2="1179.4" y2="1198.1" stroke="#2c3234" stroke-width="1.3"/>
<text x="1179.4" y="1220.6" font-size="22.0" fill="#434a4c" text-anchor="middle">0.0</text>
<line x1="1309.9" y1="1195.1" x2="1309.9" y2="1198.1" stroke="#2c3234" stroke-width="1.3"/>
<text x="1309.9" y="1220.6" font-size="22.0" fill="#434a4c" text-anchor="middle">0.5</text>
<line x1="1440.4" y1="1195.1" x2="1440.4" y2="1198.1" stroke="#2c3234" stroke-width="1.3"/>
<text x="1440.4" y="1220.6" font-size="22.0" fill="#434a4c" text-anchor="middle">1.0</text>
<text x="1188.5" y="1243.5" font-size="22.5" fill="#000" textLength="92.9" lengthAdjust="spacingAndGlyphs">Log2(FC)</text>
<text x="818.2" y="1024.6" font-size="22.5" fill="#000" textLength="126.0" lengthAdjust="spacingAndGlyphs" transform="rotate(-90 818.2 1024.6)">−log10(FDR)</text>
<circle cx="1476.6" cy="760.7" r="9.1" fill="#5cbf40" stroke="#25302f" stroke-width="1.7"/>
<circle cx="1533.4" cy="793.3" r="9.1" fill="#64e8e0" stroke="#25302f" stroke-width="1.7"/>
<circle cx="1412.7" cy="919.9" r="9.1" fill="#3a8a2a" stroke="#25302f" stroke-width="1.7"/>
<circle cx="933.7" cy="956.7" r="9.1" fill="#dcaaf2" stroke="#25302f" stroke-width="1.7"/>
<circle cx="972.5" cy="1013.6" r="9.1" fill="#a444e0" stroke="#25302f" stroke-width="1.7"/>
<circle cx="900.0" cy="1038.7" r="9.1" fill="#3a7ae8" stroke="#25302f" stroke-width="1.7"/>
<circle cx="1047.3" cy="1076.7" r="9.1" fill="#ea449c" stroke="#25302f" stroke-width="1.7"/>
<circle cx="1062.6" cy="1115.5" r="9.1" fill="#7a48b8" stroke="#25302f" stroke-width="1.7"/>
<circle cx="1080.7" cy="1114.7" r="9.1" fill="#e2a2d2" stroke="#25302f" stroke-width="1.7"/>
<circle cx="1078.3" cy="1122.6" r="9.1" fill="#a4d4f2" stroke="#25302f" stroke-width="1.7"/>
<circle cx="1093.2" cy="1115.5" r="9.1" fill="#b04048" stroke="#25302f" stroke-width="1.7"/>
<circle cx="1104.2" cy="1114.7" r="9.1" fill="#c05030" stroke="#25302f" stroke-width="1.7"/>
<circle cx="1115.5" cy="1114.7" r="9.1" fill="#f2e080" stroke="#25302f" stroke-width="1.7"/>
<circle cx="1112.8" cy="1127.7" r="9.1" fill="#c2a444" stroke="#25302f" stroke-width="1.7"/>
<circle cx="1120.6" cy="1127.7" r="9.1" fill="#7e7e30" stroke="#25302f" stroke-width="1.7"/>
<circle cx="1129.3" cy="1136.7" r="9.1" fill="#e07030" stroke="#25302f" stroke-width="1.7"/>
<circle cx="1134.4" cy="1152.0" r="9.1" fill="#c274ea" stroke="#25302f" stroke-width="1.7"/>
<circle cx="1144.2" cy="1154.7" r="9.1" fill="#e44464" stroke="#25302f" stroke-width="1.7"/>
<circle cx="1162.6" cy="1169.6" r="9.1" fill="#f07030" stroke="#25302f" stroke-width="1.7"/>
<circle cx="1172.4" cy="1175.5" r="9.1" fill="#f2b488" stroke="#25302f" stroke-width="1.7"/>
<circle cx="1198.7" cy="1164.5" r="9.1" fill="#643424" stroke="#25302f" stroke-width="1.7"/>
<circle cx="1214.7" cy="1136.3" r="9.1" fill="#a4e2b4" stroke="#25302f" stroke-width="1.7"/>
<circle cx="1223.7" cy="1136.3" r="9.1" fill="#e0c030" stroke="#25302f" stroke-width="1.7"/>
<circle cx="1223.7" cy="1152.0" r="9.1" fill="#6a98e8" stroke="#25302f" stroke-width="1.7"/>
<circle cx="1243.3" cy="1136.3" r="9.1" fill="#82c242" stroke="#25302f" stroke-width="1.7"/>
<circle cx="1247.3" cy="1114.7" r="9.1" fill="#e2a4a4" stroke="#25302f" stroke-width="1.7"/>
<circle cx="1259.0" cy="1114.7" r="9.1" fill="#b04030" stroke="#25302f" stroke-width="1.7"/>
<circle cx="1263.0" cy="1121.8" r="9.1" fill="#2e5088" stroke="#25302f" stroke-width="1.7"/>
<circle cx="1257.1" cy="1128.4" r="9.1" fill="#d09444" stroke="#25302f" stroke-width="1.7"/>
<circle cx="1274.7" cy="1099.0" r="9.1" fill="#a46a5a" stroke="#25302f" stroke-width="1.7"/>
<circle cx="1286.5" cy="1115.5" r="9.1" fill="#3464e4" stroke="#25302f" stroke-width="1.7"/>
<circle cx="1321.7" cy="1067.7" r="9.1" fill="#94d454" stroke="#25302f" stroke-width="1.7"/>
<circle cx="1348.0" cy="1046.1" r="9.1" fill="#92e062" stroke="#25302f" stroke-width="1.7"/>
<circle cx="1355.8" cy="1046.1" r="9.1" fill="#d4f294" stroke="#25302f" stroke-width="1.7"/>
<circle cx="1356.6" cy="1067.7" r="9.1" fill="#a46494" stroke="#25302f" stroke-width="1.7"/>
<line x1="868.0" y1="923.4" x2="1564.4" y2="923.4" stroke="#111" stroke-width="2.3" stroke-dasharray="8.1 7.85" stroke-dashoffset="-4.0"/>
<text x="1353.9" y="765.8" font-size="21.0" fill="#3a4448" textLength="99.9" lengthAdjust="spacingAndGlyphs">CD4 naive</text>
<text x="1453.8" y="819.9" font-size="21.0" fill="#3a4448" textLength="110.6" lengthAdjust="spacingAndGlyphs">Plasma cell</text>
<text x="1387.2" y="903.8" font-size="21.0" fill="#3a4448" textLength="73.7" lengthAdjust="spacingAndGlyphs">CD4 Th</text>
<text x="952.1" y="959.9" font-size="21.0" fill="#3a4448" textLength="66.6" lengthAdjust="spacingAndGlyphs">LASP4</text>
<text x="124.2" y="1304.3" font-size="42.0" fill="#1a1e22" textLength="573.1" lengthAdjust="spacingAndGlyphs">Differential abundance - BRCA1</text>
<path d="M46.5,1311.8 V1767.7 H750.2" fill="none" stroke="#2c3234" stroke-width="1.5"/>
<line x1="43.5" y1="1747.7" x2="46.5" y2="1747.7" stroke="#2c3234" stroke-width="1.3"/>
<text x="42.2" y="1754.3" font-size="22.0" fill="#434a4c" text-anchor="end">0</text>
<line x1="43.5" y1="1625.0" x2="46.5" y2="1625.0" stroke="#2c3234" stroke-width="1.3"/>
<text x="42.2" y="1631.6" font-size="22.0" fill="#434a4c" text-anchor="end">1</text>
<line x1="43.5" y1="1502.3" x2="46.5" y2="1502.3" stroke="#2c3234" stroke-width="1.3"/>
<text x="42.2" y="1508.9" font-size="22.0" fill="#434a4c" text-anchor="end">2</text>
<line x1="43.5" y1="1379.6" x2="46.5" y2="1379.6" stroke="#2c3234" stroke-width="1.3"/>
<text x="42.2" y="1386.2" font-size="22.0" fill="#434a4c" text-anchor="end">3</text>
<line x1="108.9" y1="1767.7" x2="108.9" y2="1770.7" stroke="#2c3234" stroke-width="1.3"/>
<text x="108.9" y="1791.3" font-size="22.0" fill="#434a4c" text-anchor="middle">−1</text>
<line x1="277.2" y1="1767.7" x2="277.2" y2="1770.7" stroke="#2c3234" stroke-width="1.3"/>
<text x="277.2" y="1791.3" font-size="22.0" fill="#434a4c" text-anchor="middle">0</text>
<line x1="445.5" y1="1767.7" x2="445.5" y2="1770.7" stroke="#2c3234" stroke-width="1.3"/>
<text x="445.5" y="1791.3" font-size="22.0" fill="#434a4c" text-anchor="middle">1</text>
<line x1="613.8" y1="1767.7" x2="613.8" y2="1770.7" stroke="#2c3234" stroke-width="1.3"/>
<text x="613.8" y="1791.3" font-size="22.0" fill="#434a4c" text-anchor="middle">2</text>
<text x="368.7" y="1818.1" font-size="22.5" fill="#000" textLength="90.9" lengthAdjust="spacingAndGlyphs">Log2(FC)</text>
<text x="21.0" y="1606.0" font-size="22.5" fill="#000" textLength="124.0" lengthAdjust="spacingAndGlyphs" transform="rotate(-90 21.0 1606.0)">−log10(FDR)</text>
<circle cx="675.0" cy="1331.7" r="9.1" fill="#92c440" stroke="#25302f" stroke-width="1.7"/>
<circle cx="717.5" cy="1361.9" r="9.1" fill="#6494f2" stroke="#25302f" stroke-width="1.7"/>
<circle cx="541.3" cy="1427.3" r="9.1" fill="#a87060" stroke="#25302f" stroke-width="1.7"/>
<circle cx="606.7" cy="1427.3" r="9.1" fill="#c0404a" stroke="#25302f" stroke-width="1.7"/>
<circle cx="121.7" cy="1591.5" r="9.1" fill="#74e2a2" stroke="#25302f" stroke-width="1.7"/>
<circle cx="459.6" cy="1603.1" r="9.1" fill="#92e262" stroke="#25302f" stroke-width="1.7"/>
<circle cx="530.4" cy="1616.2" r="9.1" fill="#e2b2f2" stroke="#25302f" stroke-width="1.7"/>
<circle cx="78.1" cy="1645.3" r="9.1" fill="#c274e2" stroke="#25302f" stroke-width="1.7"/>
<circle cx="123.5" cy="1645.3" r="9.1" fill="#f2a4da" stroke="#25302f" stroke-width="1.7"/>
<circle cx="141.0" cy="1640.5" r="9.1" fill="#e07030" stroke="#25302f" stroke-width="1.7"/>
<circle cx="107.9" cy="1686.0" r="9.1" fill="#3a7ae8" stroke="#25302f" stroke-width="1.7"/>
<circle cx="127.2" cy="1679.4" r="9.1" fill="#a444e0" stroke="#25302f" stroke-width="1.7"/>
<circle cx="144.6" cy="1679.8" r="9.1" fill="#7850c0" stroke="#25302f" stroke-width="1.7"/>
<circle cx="196.2" cy="1698.7" r="9.1" fill="#c05828" stroke="#25302f" stroke-width="1.7"/>
<circle cx="212.5" cy="1711.4" r="9.1" fill="#f8c294" stroke="#25302f" stroke-width="1.7"/>
<circle cx="239.8" cy="1731.4" r="9.1" fill="#7e7e30" stroke="#25302f" stroke-width="1.7"/>
<circle cx="279.7" cy="1747.0" r="9.1" fill="#c2a2e2" stroke="#25302f" stroke-width="1.7"/>
<circle cx="285.0" cy="1747.0" r="9.1" fill="#5a4070" stroke="#25302f" stroke-width="1.7"/>
<circle cx="270.7" cy="1747.0" r="9.1" fill="#e2c030" stroke="#25302f" stroke-width="1.7"/>
<circle cx="292.4" cy="1747.0" r="9.1" fill="#e244a2" stroke="#25302f" stroke-width="1.7"/>
<circle cx="307.0" cy="1735.0" r="9.1" fill="#c2b254" stroke="#25302f" stroke-width="1.7"/>
<circle cx="321.5" cy="1731.4" r="9.1" fill="#e2a434" stroke="#25302f" stroke-width="1.7"/>
<circle cx="329.9" cy="1726.6" r="9.1" fill="#72d254" stroke="#25302f" stroke-width="1.7"/>
<circle cx="333.5" cy="1704.8" r="9.1" fill="#f8e884" stroke="#25302f" stroke-width="1.7"/>
<circle cx="351.7" cy="1702.3" r="9.1" fill="#a03424" stroke="#25302f" stroke-width="1.7"/>
<circle cx="360.7" cy="1700.5" r="9.1" fill="#703424" stroke="#25302f" stroke-width="1.7"/>
<circle cx="349.5" cy="1711.4" r="9.1" fill="#f26424" stroke="#25302f" stroke-width="1.7"/>
<circle cx="400.3" cy="1691.4" r="9.1" fill="#a46494" stroke="#25302f" stroke-width="1.7"/>
<circle cx="406.9" cy="1681.6" r="9.1" fill="#3a72e2" stroke="#25302f" stroke-width="1.7"/>
<circle cx="409.8" cy="1653.3" r="9.1" fill="#52b244" stroke="#25302f" stroke-width="1.7"/>
<circle cx="424.3" cy="1646.0" r="9.1" fill="#428434" stroke="#25302f" stroke-width="1.7"/>
<circle cx="435.2" cy="1653.3" r="9.1" fill="#d4f2a4" stroke="#25302f" stroke-width="1.7"/>
<line x1="46.5" y1="1589.4" x2="750.2" y2="1589.4" stroke="#111" stroke-width="2.3" stroke-dasharray="8.1 7.85" stroke-dashoffset="-1.3"/>
<text x="574.0" y="1337.9" font-size="21.0" fill="#3a4448" textLength="84.3" lengthAdjust="spacingAndGlyphs">CD8 Tc1</text>
<text x="703.0" y="1393.5" font-size="21.0" fill="#3a4448" textLength="36.3" lengthAdjust="spacingAndGlyphs">LE1</text>
<text x="531.1" y="1411.7" font-size="21.0" fill="#3a4448" textLength="37.4" lengthAdjust="spacingAndGlyphs">FB4</text>
<text x="595.8" y="1411.7" font-size="21.0" fill="#3a4448" textLength="74.5" lengthAdjust="spacingAndGlyphs">BMYO2</text>
<text x="112.6" y="1575.1" font-size="21.0" fill="#3a4448" textLength="60.0" lengthAdjust="spacingAndGlyphs">Macro</text>
<text x="356.0" y="1611.5" font-size="21.0" fill="#3a4448" textLength="85.4" lengthAdjust="spacingAndGlyphs">CD8 Trm</text>
<text x="548.6" y="1614.0" font-size="21.0" fill="#3a4448" textLength="67.2" lengthAdjust="spacingAndGlyphs">LASP4</text>
<text x="53.8" y="1627.8" font-size="21.0" fill="#3a4448" textLength="65.4" lengthAdjust="spacingAndGlyphs">LASP1</text>
<text x="956.8" y="1305.2" font-size="42.0" fill="#1a1e22" textLength="579.4" lengthAdjust="spacingAndGlyphs">Differential abundance - BRCA2</text>
<path d="M862.7,1311.9 V1767.4 H1558.9" fill="none" stroke="#2c3234" stroke-width="1.5"/>
<line x1="859.7" y1="1755.7" x2="862.7" y2="1755.7" stroke="#2c3234" stroke-width="1.3"/>
<text x="856.5" y="1762.3" font-size="22.0" fill="#434a4c" text-anchor="end">0.0</text>
<line x1="859.7" y1="1604.7" x2="862.7" y2="1604.7" stroke="#2c3234" stroke-width="1.3"/>
<text x="856.5" y="1611.3" font-size="22.0" fill="#434a4c" text-anchor="end">0.5</text>
<line x1="859.7" y1="1453.7" x2="862.7" y2="1453.7" stroke="#2c3234" stroke-width="1.3"/>
<text x="856.5" y="1460.3" font-size="22.0" fill="#434a4c" text-anchor="end">1.0</text>
<line x1="911.9" y1="1767.4" x2="911.9" y2="1770.4" stroke="#2c3234" stroke-width="1.3"/>
<text x="911.9" y="1791.7" font-size="22.0" fill="#434a4c" text-anchor="middle">−1</text>
<line x1="1136.3" y1="1767.4" x2="1136.3" y2="1770.4" stroke="#2c3234" stroke-width="1.3"/>
<text x="1136.3" y="1791.7" font-size="22.0" fill="#434a4c" text-anchor="middle">0</text>
<line x1="1360.7" y1="1767.4" x2="1360.7" y2="1770.4" stroke="#2c3234" stroke-width="1.3"/>
<text x="1360.7" y="1791.7" font-size="22.0" fill="#434a4c" text-anchor="middle">1</text>
<text x="1188.5" y="1811.2" font-size="22.5" fill="#000" textLength="92.1" lengthAdjust="spacingAndGlyphs">Log2(FC)</text>
<text x="810.0" y="1606.7" font-size="22.5" fill="#000" textLength="125.0" lengthAdjust="spacingAndGlyphs" transform="rotate(-90 810.0 1606.7)">−log10(FDR)</text>
<circle cx="1527.5" cy="1332.3" r="9.1" fill="#6a9af2" stroke="#25302f" stroke-width="1.7"/>
<circle cx="894.1" cy="1451.9" r="9.1" fill="#827232" stroke="#25302f" stroke-width="1.7"/>
<circle cx="1333.1" cy="1451.9" r="9.1" fill="#a87262" stroke="#25302f" stroke-width="1.7"/>
<circle cx="1397.0" cy="1451.9" r="9.1" fill="#52ba34" stroke="#25302f" stroke-width="1.7"/>
<circle cx="952.1" cy="1565.6" r="9.1" fill="#f8c294" stroke="#25302f" stroke-width="1.7"/>
<circle cx="950.9" cy="1595.0" r="9.1" fill="#a444e0" stroke="#25302f" stroke-width="1.7"/>
<circle cx="984.6" cy="1593.8" r="9.1" fill="#c05a2a" stroke="#25302f" stroke-width="1.7"/>
<circle cx="1000.3" cy="1593.8" r="9.1" fill="#c05424" stroke="#25302f" stroke-width="1.7"/>
<circle cx="1016.8" cy="1593.8" r="9.1" fill="#62e284" stroke="#25302f" stroke-width="1.7"/>
<circle cx="984.6" cy="1634.2" r="9.1" fill="#ea4494" stroke="#25302f" stroke-width="1.7"/>
<circle cx="1027.7" cy="1666.3" r="9.1" fill="#7a4ab2" stroke="#25302f" stroke-width="1.7"/>
<circle cx="1005.8" cy="1681.2" r="9.1" fill="#44e2da" stroke="#25302f" stroke-width="1.7"/>
<circle cx="1025.4" cy="1678.5" r="9.1" fill="#c274e2" stroke="#25302f" stroke-width="1.7"/>
<circle cx="1057.9" cy="1684.0" r="9.1" fill="#f2a4d2" stroke="#25302f" stroke-width="1.7"/>
<circle cx="1054.8" cy="1723.2" r="9.1" fill="#3a7ae8" stroke="#25302f" stroke-width="1.7"/>
<circle cx="1106.1" cy="1733.3" r="9.1" fill="#a46494" stroke="#25302f" stroke-width="1.7"/>
<circle cx="1124.6" cy="1746.7" r="9.1" fill="#e2b2f2" stroke="#25302f" stroke-width="1.7"/>
<circle cx="1170.4" cy="1717.7" r="9.1" fill="#f8e274" stroke="#25302f" stroke-width="1.7"/>
<circle cx="1156.7" cy="1733.0" r="9.1" fill="#c2a444" stroke="#25302f" stroke-width="1.7"/>
<circle cx="1159.8" cy="1733.0" r="9.1" fill="#e2a424" stroke="#25302f" stroke-width="1.7"/>
<circle cx="1168.5" cy="1733.0" r="9.1" fill="#a4cada" stroke="#25302f" stroke-width="1.7"/>
<circle cx="1223.7" cy="1684.0" r="9.1" fill="#3a72ea" stroke="#25302f" stroke-width="1.7"/>
<circle cx="1277.4" cy="1713.3" r="9.1" fill="#305292" stroke="#25302f" stroke-width="1.7"/>
<circle cx="1266.5" cy="1593.8" r="9.1" fill="#c2b254" stroke="#25302f" stroke-width="1.7"/>
<circle cx="1286.1" cy="1606.0" r="9.1" fill="#f2a444" stroke="#25302f" stroke-width="1.7"/>
<circle cx="1259.0" cy="1634.2" r="9.1" fill="#92da54" stroke="#25302f" stroke-width="1.7"/>
<circle cx="1274.3" cy="1634.2" r="9.1" fill="#82c234" stroke="#25302f" stroke-width="1.7"/>
<circle cx="1293.9" cy="1574.6" r="9.1" fill="#a03424" stroke="#25302f" stroke-width="1.7"/>
<circle cx="1323.3" cy="1574.6" r="9.1" fill="#f26434" stroke="#25302f" stroke-width="1.7"/>
<circle cx="1337.0" cy="1565.6" r="9.1" fill="#643424" stroke="#25302f" stroke-width="1.7"/>
<circle cx="1325.3" cy="1593.8" r="9.1" fill="#52d264" stroke="#25302f" stroke-width="1.7"/>
<circle cx="1317.8" cy="1593.8" r="9.1" fill="#d4f2a4" stroke="#25302f" stroke-width="1.7"/>
<circle cx="1312.7" cy="1637.3" r="9.1" fill="#c23444" stroke="#25302f" stroke-width="1.7"/>
<line x1="862.7" y1="1365.2" x2="1558.9" y2="1365.2" stroke="#111" stroke-width="2.3" stroke-dasharray="8.1 7.85" stroke-dashoffset="0.0"/>
<text x="1472.7" y="1352.7" font-size="21.0" fill="#3a4448" textLength="36.8" lengthAdjust="spacingAndGlyphs">LE1</text>
<text x="901.9" y="1437.4" font-size="21.0" fill="#3a4448" textLength="44.3" lengthAdjust="spacingAndGlyphs">VEC</text>
<text x="1310.8" y="1434.2" font-size="21.0" fill="#3a4448" textLength="39.2" lengthAdjust="spacingAndGlyphs">FB4</text>
<text x="1391.9" y="1436.2" font-size="21.0" fill="#3a4448" textLength="101.1" lengthAdjust="spacingAndGlyphs">CD4 naive</text>
<path d="M1701.8,675.9 V1252.5 H2164.0" fill="none" stroke="#2c3234" stroke-width="1.5"/>
<line x1="1698.8" y1="1228.3" x2="1701.8" y2="1228.3" stroke="#2c3234" stroke-width="1.3"/>
<text x="1692.0" y="1234.3" font-size="22.0" fill="#434a4c" text-anchor="end">0</text>
<line x1="1698.8" y1="1084.7" x2="1701.8" y2="1084.7" stroke="#2c3234" stroke-width="1.3"/>
<text x="1692.0" y="1090.7" font-size="22.0" fill="#434a4c" text-anchor="end">10000</text>
<line x1="1698.8" y1="941.1" x2="1701.8" y2="941.1" stroke="#2c3234" stroke-width="1.3"/>
<text x="1692.0" y="947.1" font-size="22.0" fill="#434a4c" text-anchor="end">20000</text>
<line x1="1698.8" y1="797.5" x2="1701.8" y2="797.5" stroke="#2c3234" stroke-width="1.3"/>
<text x="1692.0" y="803.5" font-size="22.0" fill="#434a4c" text-anchor="end">30000</text>
<text x="1622.0" y="1120.6" font-size="22.5" fill="#000" textLength="295.6" lengthAdjust="spacingAndGlyphs" transform="rotate(-90 1622.0 1120.6)">Sequenced cells per individual</text>
<line x1="1740.3" y1="832.6" x2="1740.3" y2="1214.8" stroke="#2a2f30" stroke-width="1.4"/>
<rect x="1716.3" y="974.7" width="48" height="119.0" fill="#f6e84a" stroke="#2a2f30" stroke-width="1.4"/>
<line x1="1716.3" y1="1043.3" x2="1764.3" y2="1043.3" stroke="#1a1f20" stroke-width="2.6"/>
<circle cx="1740.3" cy="701.7" r="3.2" fill="#222"/>
<circle cx="1740.3" cy="773.9" r="3.2" fill="#222"/>
<line x1="1740.3" y1="1252.5" x2="1740.3" y2="1255.5" stroke="#2c3234" stroke-width="1.3"/>
<text x="1747.9" y="1263.5" font-size="22.0" fill="#434a4c" transform="rotate(-90 1747.9 1263.5)" text-anchor="end">Reed</text>
<line x1="1804.6" y1="1023.1" x2="1804.6" y2="1133.0" stroke="#2a2f30" stroke-width="1.4"/>
<rect x="1780.6" y="1070.7" width="48" height="36.1" fill="#f052a2" stroke="#2a2f30" stroke-width="1.4"/>
<line x1="1780.6" y1="1080.6" x2="1828.6" y2="1080.6" stroke="#1a1f20" stroke-width="2.6"/>
<circle cx="1804.6" cy="934.2" r="3.2" fill="#222"/>
<circle cx="1804.6" cy="1177.1" r="3.2" fill="#222"/>
<line x1="1804.6" y1="1252.5" x2="1804.6" y2="1255.5" stroke="#2c3234" stroke-width="1.3"/>
<text x="1812.2" y="1263.5" font-size="22.0" fill="#434a4c" transform="rotate(-90 1812.2 1263.5)" text-anchor="end">Nee</text>
<line x1="1868.9" y1="1110.4" x2="1868.9" y2="1199.7" stroke="#2a2f30" stroke-width="1.4"/>
<rect x="1844.9" y="1132.2" width="48" height="29.8" fill="#b072e2" stroke="#2a2f30" stroke-width="1.4"/>
<line x1="1844.9" y1="1148.1" x2="1892.9" y2="1148.1" stroke="#1a1f20" stroke-width="2.6"/>
<circle cx="1868.9" cy="1060.8" r="3.2" fill="#222"/>
<circle cx="1868.9" cy="1074.3" r="3.2" fill="#222"/>
<circle cx="1868.9" cy="1218.3" r="3.2" fill="#222"/>
<line x1="1868.9" y1="1252.5" x2="1868.9" y2="1255.5" stroke="#2c3234" stroke-width="1.3"/>
<text x="1876.5" y="1263.5" font-size="22.0" fill="#434a4c" transform="rotate(-90 1876.5 1263.5)" text-anchor="end">Twigger</text>
<line x1="1933.2" y1="1052.9" x2="1933.2" y2="1224.3" stroke="#2a2f30" stroke-width="1.4"/>
<rect x="1909.2" y="1125.5" width="48" height="53.5" fill="#f69282" stroke="#2a2f30" stroke-width="1.4"/>
<line x1="1909.2" y1="1154.4" x2="1957.2" y2="1154.4" stroke="#1a1f20" stroke-width="2.6"/>
<circle cx="1933.2" cy="1025.1" r="3.2" fill="#222"/>
<circle cx="1933.2" cy="1027.0" r="3.2" fill="#222"/>
<circle cx="1933.2" cy="1035.8" r="3.2" fill="#222"/>
<line x1="1933.2" y1="1252.5" x2="1933.2" y2="1255.5" stroke="#2c3234" stroke-width="1.3"/>
<text x="1940.8" y="1263.5" font-size="22.0" fill="#434a4c" transform="rotate(-90 1940.8 1263.5)" text-anchor="end">Kumar</text>
<line x1="1997.5" y1="1042.9" x2="1997.5" y2="1212.8" stroke="#2a2f30" stroke-width="1.4"/>
<rect x="1973.5" y="1128.3" width="48" height="57.9" fill="#52e232" stroke="#2a2f30" stroke-width="1.4"/>
<line x1="1973.5" y1="1158.0" x2="2021.5" y2="1158.0" stroke="#1a1f20" stroke-width="2.6"/>
<circle cx="1997.5" cy="1004.0" r="3.2" fill="#222"/>
<circle cx="1997.5" cy="1033.8" r="3.2" fill="#222"/>
<line x1="1997.5" y1="1252.5" x2="1997.5" y2="1255.5" stroke="#2c3234" stroke-width="1.3"/>
<text x="2005.1" y="1263.5" font-size="22.0" fill="#434a4c" transform="rotate(-90 2005.1 1263.5)" text-anchor="end">Pal</text>
<line x1="2061.7" y1="1123.5" x2="2061.7" y2="1224.3" stroke="#2a2f30" stroke-width="1.4"/>
<rect x="2037.7" y="1158.8" width="48" height="56.8" fill="#44e262" stroke="#2a2f30" stroke-width="1.4"/>
<line x1="2037.7" y1="1187.0" x2="2085.7" y2="1187.0" stroke="#1a1f20" stroke-width="2.6"/>
<line x1="2061.7" y1="1252.5" x2="2061.7" y2="1255.5" stroke="#2c3234" stroke-width="1.3"/>
<text x="2069.3" y="1263.5" font-size="22.0" fill="#434a4c" transform="rotate(-90 2069.3 1263.5)" text-anchor="end">Gray</text>
<line x1="2126.4" y1="1170.7" x2="2126.4" y2="1225.5" stroke="#2a2f30" stroke-width="1.4"/>
<rect x="2102.4" y="1193.7" width="48" height="21.1" fill="#5692f2" stroke="#2a2f30" stroke-width="1.4"/>
<line x1="2102.4" y1="1207.6" x2="2150.4" y2="1207.6" stroke="#1a1f20" stroke-width="2.6"/>
<circle cx="2126.4" cy="1039.0" r="3.2" fill="#222"/>
<circle cx="2126.4" cy="1051.7" r="3.2" fill="#222"/>
<circle cx="2126.4" cy="1079.0" r="3.2" fill="#222"/>
<circle cx="2126.4" cy="1109.2" r="3.2" fill="#222"/>
<circle cx="2126.4" cy="1162.0" r="3.2" fill="#222"/>
<line x1="2126.4" y1="1252.5" x2="2126.4" y2="1255.5" stroke="#2c3234" stroke-width="1.3"/>
<text x="2134.0" y="1263.5" font-size="22.0" fill="#434a4c" transform="rotate(-90 2134.0 1263.5)" text-anchor="end">Murrow</text>
</svg></body></html>
